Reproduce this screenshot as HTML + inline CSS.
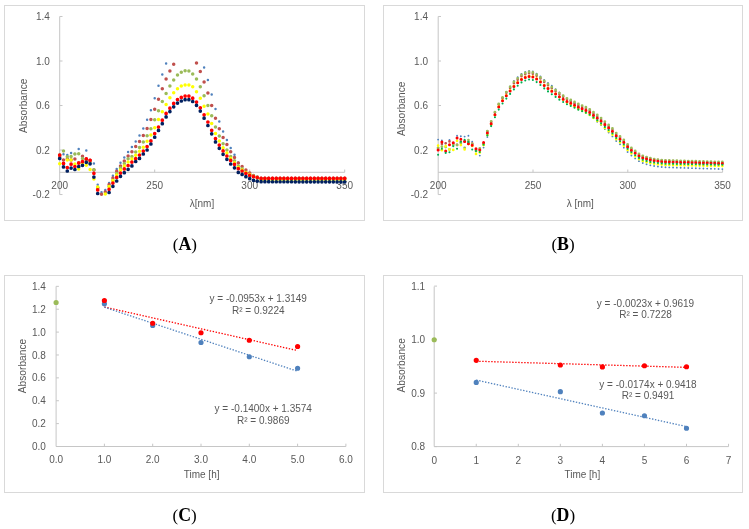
<!DOCTYPE html>
<html><head><meta charset="utf-8"><title>Absorbance figure</title>
<style>
html,body{margin:0;padding:0;background:#fff;}
body{width:749px;height:529px;overflow:hidden;}
svg{display:block;font-family:"Liberation Sans",sans-serif;filter:blur(0.35px);}
</style></head><body>
<svg width="749" height="529" viewBox="0 0 749 529">
<rect width="749" height="529" fill="#fff"/>
<rect x="4.5" y="5.5" width="360" height="215" fill="none" stroke="#d9d9d9" stroke-width="1"/>
<line x1="59.7" y1="16.5" x2="59.7" y2="194.6" stroke="#c6c6c6" stroke-width="1"/>
<line x1="59.7" y1="172.3" x2="344.7" y2="172.3" stroke="#c6c6c6" stroke-width="1"/>
<line x1="59.7" y1="16.48" x2="62.5" y2="16.48" stroke="#c6c6c6" stroke-width="1"/>
<text x="49.8" y="20.08" font-size="10" text-anchor="end" fill="#595959">1.4</text>
<line x1="59.7" y1="61" x2="62.5" y2="61" stroke="#c6c6c6" stroke-width="1"/>
<text x="49.8" y="64.6" font-size="10" text-anchor="end" fill="#595959">1.0</text>
<line x1="59.7" y1="105.52" x2="62.5" y2="105.52" stroke="#c6c6c6" stroke-width="1"/>
<text x="49.8" y="109.12" font-size="10" text-anchor="end" fill="#595959">0.6</text>
<line x1="59.7" y1="150.04" x2="62.5" y2="150.04" stroke="#c6c6c6" stroke-width="1"/>
<text x="49.8" y="153.64" font-size="10" text-anchor="end" fill="#595959">0.2</text>
<line x1="59.7" y1="194.56" x2="62.5" y2="194.56" stroke="#c6c6c6" stroke-width="1"/>
<text x="49.8" y="198.16" font-size="10" text-anchor="end" fill="#595959">-0.2</text>
<text x="59.7" y="188.8" font-size="10" text-anchor="middle" fill="#595959">200</text>
<line x1="154.7" y1="172.3" x2="154.7" y2="169.5" stroke="#c6c6c6" stroke-width="1"/>
<text x="154.7" y="188.8" font-size="10" text-anchor="middle" fill="#595959">250</text>
<line x1="249.7" y1="172.3" x2="249.7" y2="169.5" stroke="#c6c6c6" stroke-width="1"/>
<text x="249.7" y="188.8" font-size="10" text-anchor="middle" fill="#595959">300</text>
<line x1="344.7" y1="172.3" x2="344.7" y2="169.5" stroke="#c6c6c6" stroke-width="1"/>
<text x="344.7" y="188.8" font-size="10" text-anchor="middle" fill="#595959">350</text>
<text x="0" y="0" font-size="10.2" text-anchor="middle" fill="#595959" transform="translate(27.2 105.75) rotate(-90)">Absorbance</text>
<text x="202" y="207.2" font-size="10" text-anchor="middle" fill="#595959">&#955;[nm]</text>
<path fill="#4f81bd" d="M58.45 155a1.25 1.25 0 1 0 2.5 0a1.25 1.25 0 1 0 -2.5 0M62.25 154.2a1.25 1.25 0 1 0 2.5 0a1.25 1.25 0 1 0 -2.5 0M66.05 155.1a1.25 1.25 0 1 0 2.5 0a1.25 1.25 0 1 0 -2.5 0M69.85 152.9a1.25 1.25 0 1 0 2.5 0a1.25 1.25 0 1 0 -2.5 0M73.65 154a1.25 1.25 0 1 0 2.5 0a1.25 1.25 0 1 0 -2.5 0M77.45 149.1a1.25 1.25 0 1 0 2.5 0a1.25 1.25 0 1 0 -2.5 0M81.25 156.3a1.25 1.25 0 1 0 2.5 0a1.25 1.25 0 1 0 -2.5 0M85.05 150.4a1.25 1.25 0 1 0 2.5 0a1.25 1.25 0 1 0 -2.5 0M88.85 160.3a1.25 1.25 0 1 0 2.5 0a1.25 1.25 0 1 0 -2.5 0M92.65 163.5a1.25 1.25 0 1 0 2.5 0a1.25 1.25 0 1 0 -2.5 0M96.45 184.8a1.25 1.25 0 1 0 2.5 0a1.25 1.25 0 1 0 -2.5 0M100.25 192.2a1.25 1.25 0 1 0 2.5 0a1.25 1.25 0 1 0 -2.5 0M104.05 189.9a1.25 1.25 0 1 0 2.5 0a1.25 1.25 0 1 0 -2.5 0M107.85 182.9a1.25 1.25 0 1 0 2.5 0a1.25 1.25 0 1 0 -2.5 0M111.65 175.7a1.25 1.25 0 1 0 2.5 0a1.25 1.25 0 1 0 -2.5 0M115.45 168.9a1.25 1.25 0 1 0 2.5 0a1.25 1.25 0 1 0 -2.5 0M119.25 162.7a1.25 1.25 0 1 0 2.5 0a1.25 1.25 0 1 0 -2.5 0M123.05 157.6a1.25 1.25 0 1 0 2.5 0a1.25 1.25 0 1 0 -2.5 0M126.85 152.1a1.25 1.25 0 1 0 2.5 0a1.25 1.25 0 1 0 -2.5 0M130.65 147a1.25 1.25 0 1 0 2.5 0a1.25 1.25 0 1 0 -2.5 0M134.45 141.4a1.25 1.25 0 1 0 2.5 0a1.25 1.25 0 1 0 -2.5 0M138.25 135.5a1.25 1.25 0 1 0 2.5 0a1.25 1.25 0 1 0 -2.5 0M142.05 128.4a1.25 1.25 0 1 0 2.5 0a1.25 1.25 0 1 0 -2.5 0M145.85 119.7a1.25 1.25 0 1 0 2.5 0a1.25 1.25 0 1 0 -2.5 0M149.65 110.2a1.25 1.25 0 1 0 2.5 0a1.25 1.25 0 1 0 -2.5 0M153.45 98.2a1.25 1.25 0 1 0 2.5 0a1.25 1.25 0 1 0 -2.5 0M157.25 85.8a1.25 1.25 0 1 0 2.5 0a1.25 1.25 0 1 0 -2.5 0M161.05 74.4a1.25 1.25 0 1 0 2.5 0a1.25 1.25 0 1 0 -2.5 0M164.85 63.4a1.25 1.25 0 1 0 2.5 0a1.25 1.25 0 1 0 -2.5 0M202.85 67.6a1.25 1.25 0 1 0 2.5 0a1.25 1.25 0 1 0 -2.5 0M206.65 80a1.25 1.25 0 1 0 2.5 0a1.25 1.25 0 1 0 -2.5 0M210.45 94.5a1.25 1.25 0 1 0 2.5 0a1.25 1.25 0 1 0 -2.5 0M214.25 109a1.25 1.25 0 1 0 2.5 0a1.25 1.25 0 1 0 -2.5 0M218.05 121.4a1.25 1.25 0 1 0 2.5 0a1.25 1.25 0 1 0 -2.5 0M221.85 131.4a1.25 1.25 0 1 0 2.5 0a1.25 1.25 0 1 0 -2.5 0M225.65 140a1.25 1.25 0 1 0 2.5 0a1.25 1.25 0 1 0 -2.5 0M229.45 148a1.25 1.25 0 1 0 2.5 0a1.25 1.25 0 1 0 -2.5 0M233.25 154.7a1.25 1.25 0 1 0 2.5 0a1.25 1.25 0 1 0 -2.5 0M237.05 162.5a1.25 1.25 0 1 0 2.5 0a1.25 1.25 0 1 0 -2.5 0M240.85 170.5a1.25 1.25 0 1 0 2.5 0a1.25 1.25 0 1 0 -2.5 0M244.65 173a1.25 1.25 0 1 0 2.5 0a1.25 1.25 0 1 0 -2.5 0M248.45 175a1.25 1.25 0 1 0 2.5 0a1.25 1.25 0 1 0 -2.5 0M252.25 176.3a1.25 1.25 0 1 0 2.5 0a1.25 1.25 0 1 0 -2.5 0M256.05 177.5a1.25 1.25 0 1 0 2.5 0a1.25 1.25 0 1 0 -2.5 0M259.85 178.3a1.25 1.25 0 1 0 2.5 0a1.25 1.25 0 1 0 -2.5 0M263.65 178.3a1.25 1.25 0 1 0 2.5 0a1.25 1.25 0 1 0 -2.5 0M267.45 178.3a1.25 1.25 0 1 0 2.5 0a1.25 1.25 0 1 0 -2.5 0M271.25 178.3a1.25 1.25 0 1 0 2.5 0a1.25 1.25 0 1 0 -2.5 0M275.05 178.3a1.25 1.25 0 1 0 2.5 0a1.25 1.25 0 1 0 -2.5 0M278.85 178.3a1.25 1.25 0 1 0 2.5 0a1.25 1.25 0 1 0 -2.5 0M282.65 178.3a1.25 1.25 0 1 0 2.5 0a1.25 1.25 0 1 0 -2.5 0M286.45 178.3a1.25 1.25 0 1 0 2.5 0a1.25 1.25 0 1 0 -2.5 0M290.25 178.3a1.25 1.25 0 1 0 2.5 0a1.25 1.25 0 1 0 -2.5 0M294.05 178.3a1.25 1.25 0 1 0 2.5 0a1.25 1.25 0 1 0 -2.5 0M297.85 178.3a1.25 1.25 0 1 0 2.5 0a1.25 1.25 0 1 0 -2.5 0M301.65 178.3a1.25 1.25 0 1 0 2.5 0a1.25 1.25 0 1 0 -2.5 0M305.45 178.3a1.25 1.25 0 1 0 2.5 0a1.25 1.25 0 1 0 -2.5 0M309.25 178.3a1.25 1.25 0 1 0 2.5 0a1.25 1.25 0 1 0 -2.5 0M313.05 178.3a1.25 1.25 0 1 0 2.5 0a1.25 1.25 0 1 0 -2.5 0M316.85 178.3a1.25 1.25 0 1 0 2.5 0a1.25 1.25 0 1 0 -2.5 0M320.65 178.3a1.25 1.25 0 1 0 2.5 0a1.25 1.25 0 1 0 -2.5 0M324.45 178.3a1.25 1.25 0 1 0 2.5 0a1.25 1.25 0 1 0 -2.5 0M328.25 178.3a1.25 1.25 0 1 0 2.5 0a1.25 1.25 0 1 0 -2.5 0M332.05 178.3a1.25 1.25 0 1 0 2.5 0a1.25 1.25 0 1 0 -2.5 0M335.85 178.3a1.25 1.25 0 1 0 2.5 0a1.25 1.25 0 1 0 -2.5 0M339.65 178.3a1.25 1.25 0 1 0 2.5 0a1.25 1.25 0 1 0 -2.5 0M343.45 178.3a1.25 1.25 0 1 0 2.5 0a1.25 1.25 0 1 0 -2.5 0"/>
<path fill="#c0504d" d="M57.95 157a1.75 1.75 0 1 0 3.5 0a1.75 1.75 0 1 0 -3.5 0M61.75 160a1.75 1.75 0 1 0 3.5 0a1.75 1.75 0 1 0 -3.5 0M65.55 159a1.75 1.75 0 1 0 3.5 0a1.75 1.75 0 1 0 -3.5 0M69.35 160a1.75 1.75 0 1 0 3.5 0a1.75 1.75 0 1 0 -3.5 0M73.15 158.9a1.75 1.75 0 1 0 3.5 0a1.75 1.75 0 1 0 -3.5 0M76.95 162.8a1.75 1.75 0 1 0 3.5 0a1.75 1.75 0 1 0 -3.5 0M80.75 156.3a1.75 1.75 0 1 0 3.5 0a1.75 1.75 0 1 0 -3.5 0M84.55 159a1.75 1.75 0 1 0 3.5 0a1.75 1.75 0 1 0 -3.5 0M88.35 160.3a1.75 1.75 0 1 0 3.5 0a1.75 1.75 0 1 0 -3.5 0M92.15 170a1.75 1.75 0 1 0 3.5 0a1.75 1.75 0 1 0 -3.5 0M95.95 188a1.75 1.75 0 1 0 3.5 0a1.75 1.75 0 1 0 -3.5 0M99.75 194.2a1.75 1.75 0 1 0 3.5 0a1.75 1.75 0 1 0 -3.5 0M103.55 192a1.75 1.75 0 1 0 3.5 0a1.75 1.75 0 1 0 -3.5 0M107.35 184.4a1.75 1.75 0 1 0 3.5 0a1.75 1.75 0 1 0 -3.5 0M111.15 178a1.75 1.75 0 1 0 3.5 0a1.75 1.75 0 1 0 -3.5 0M114.95 171.2a1.75 1.75 0 1 0 3.5 0a1.75 1.75 0 1 0 -3.5 0M118.75 165.9a1.75 1.75 0 1 0 3.5 0a1.75 1.75 0 1 0 -3.5 0M122.55 161a1.75 1.75 0 1 0 3.5 0a1.75 1.75 0 1 0 -3.5 0M126.35 156.1a1.75 1.75 0 1 0 3.5 0a1.75 1.75 0 1 0 -3.5 0M130.15 151.7a1.75 1.75 0 1 0 3.5 0a1.75 1.75 0 1 0 -3.5 0M133.95 146.6a1.75 1.75 0 1 0 3.5 0a1.75 1.75 0 1 0 -3.5 0M137.75 141.4a1.75 1.75 0 1 0 3.5 0a1.75 1.75 0 1 0 -3.5 0M141.55 135.5a1.75 1.75 0 1 0 3.5 0a1.75 1.75 0 1 0 -3.5 0M145.35 128.4a1.75 1.75 0 1 0 3.5 0a1.75 1.75 0 1 0 -3.5 0M149.15 119.5a1.75 1.75 0 1 0 3.5 0a1.75 1.75 0 1 0 -3.5 0M152.95 109.2a1.75 1.75 0 1 0 3.5 0a1.75 1.75 0 1 0 -3.5 0M156.75 99.2a1.75 1.75 0 1 0 3.5 0a1.75 1.75 0 1 0 -3.5 0M160.55 88.7a1.75 1.75 0 1 0 3.5 0a1.75 1.75 0 1 0 -3.5 0M164.35 79a1.75 1.75 0 1 0 3.5 0a1.75 1.75 0 1 0 -3.5 0M168.15 71a1.75 1.75 0 1 0 3.5 0a1.75 1.75 0 1 0 -3.5 0M171.95 64.3a1.75 1.75 0 1 0 3.5 0a1.75 1.75 0 1 0 -3.5 0M194.75 63a1.75 1.75 0 1 0 3.5 0a1.75 1.75 0 1 0 -3.5 0M198.55 71.4a1.75 1.75 0 1 0 3.5 0a1.75 1.75 0 1 0 -3.5 0M202.35 82a1.75 1.75 0 1 0 3.5 0a1.75 1.75 0 1 0 -3.5 0M206.15 93a1.75 1.75 0 1 0 3.5 0a1.75 1.75 0 1 0 -3.5 0M209.95 105.4a1.75 1.75 0 1 0 3.5 0a1.75 1.75 0 1 0 -3.5 0M213.75 118.3a1.75 1.75 0 1 0 3.5 0a1.75 1.75 0 1 0 -3.5 0M217.55 128.7a1.75 1.75 0 1 0 3.5 0a1.75 1.75 0 1 0 -3.5 0M221.35 137.4a1.75 1.75 0 1 0 3.5 0a1.75 1.75 0 1 0 -3.5 0M225.15 144.6a1.75 1.75 0 1 0 3.5 0a1.75 1.75 0 1 0 -3.5 0M228.95 151.7a1.75 1.75 0 1 0 3.5 0a1.75 1.75 0 1 0 -3.5 0M232.75 157.4a1.75 1.75 0 1 0 3.5 0a1.75 1.75 0 1 0 -3.5 0M236.55 163a1.75 1.75 0 1 0 3.5 0a1.75 1.75 0 1 0 -3.5 0M240.35 166.6a1.75 1.75 0 1 0 3.5 0a1.75 1.75 0 1 0 -3.5 0M244.15 170a1.75 1.75 0 1 0 3.5 0a1.75 1.75 0 1 0 -3.5 0M247.95 173a1.75 1.75 0 1 0 3.5 0a1.75 1.75 0 1 0 -3.5 0M251.75 175.5a1.75 1.75 0 1 0 3.5 0a1.75 1.75 0 1 0 -3.5 0M255.55 177a1.75 1.75 0 1 0 3.5 0a1.75 1.75 0 1 0 -3.5 0M259.35 178.3a1.75 1.75 0 1 0 3.5 0a1.75 1.75 0 1 0 -3.5 0M263.15 178.3a1.75 1.75 0 1 0 3.5 0a1.75 1.75 0 1 0 -3.5 0M266.95 178.3a1.75 1.75 0 1 0 3.5 0a1.75 1.75 0 1 0 -3.5 0M270.75 178.3a1.75 1.75 0 1 0 3.5 0a1.75 1.75 0 1 0 -3.5 0M274.55 178.3a1.75 1.75 0 1 0 3.5 0a1.75 1.75 0 1 0 -3.5 0M278.35 178.3a1.75 1.75 0 1 0 3.5 0a1.75 1.75 0 1 0 -3.5 0M282.15 178.3a1.75 1.75 0 1 0 3.5 0a1.75 1.75 0 1 0 -3.5 0M285.95 178.3a1.75 1.75 0 1 0 3.5 0a1.75 1.75 0 1 0 -3.5 0M289.75 178.3a1.75 1.75 0 1 0 3.5 0a1.75 1.75 0 1 0 -3.5 0M293.55 178.3a1.75 1.75 0 1 0 3.5 0a1.75 1.75 0 1 0 -3.5 0M297.35 178.3a1.75 1.75 0 1 0 3.5 0a1.75 1.75 0 1 0 -3.5 0M301.15 178.3a1.75 1.75 0 1 0 3.5 0a1.75 1.75 0 1 0 -3.5 0M304.95 178.3a1.75 1.75 0 1 0 3.5 0a1.75 1.75 0 1 0 -3.5 0M308.75 178.3a1.75 1.75 0 1 0 3.5 0a1.75 1.75 0 1 0 -3.5 0M312.55 178.3a1.75 1.75 0 1 0 3.5 0a1.75 1.75 0 1 0 -3.5 0M316.35 178.3a1.75 1.75 0 1 0 3.5 0a1.75 1.75 0 1 0 -3.5 0M320.15 178.3a1.75 1.75 0 1 0 3.5 0a1.75 1.75 0 1 0 -3.5 0M323.95 178.3a1.75 1.75 0 1 0 3.5 0a1.75 1.75 0 1 0 -3.5 0M327.75 178.3a1.75 1.75 0 1 0 3.5 0a1.75 1.75 0 1 0 -3.5 0M331.55 178.3a1.75 1.75 0 1 0 3.5 0a1.75 1.75 0 1 0 -3.5 0M335.35 178.3a1.75 1.75 0 1 0 3.5 0a1.75 1.75 0 1 0 -3.5 0M339.15 178.3a1.75 1.75 0 1 0 3.5 0a1.75 1.75 0 1 0 -3.5 0M342.95 178.3a1.75 1.75 0 1 0 3.5 0a1.75 1.75 0 1 0 -3.5 0"/>
<path fill="#9bbb59" d="M57.95 155a1.75 1.75 0 1 0 3.5 0a1.75 1.75 0 1 0 -3.5 0M61.75 151a1.75 1.75 0 1 0 3.5 0a1.75 1.75 0 1 0 -3.5 0M65.55 156.8a1.75 1.75 0 1 0 3.5 0a1.75 1.75 0 1 0 -3.5 0M69.35 156.5a1.75 1.75 0 1 0 3.5 0a1.75 1.75 0 1 0 -3.5 0M73.15 154a1.75 1.75 0 1 0 3.5 0a1.75 1.75 0 1 0 -3.5 0M76.95 153.8a1.75 1.75 0 1 0 3.5 0a1.75 1.75 0 1 0 -3.5 0M80.75 158.5a1.75 1.75 0 1 0 3.5 0a1.75 1.75 0 1 0 -3.5 0M84.55 160a1.75 1.75 0 1 0 3.5 0a1.75 1.75 0 1 0 -3.5 0M88.35 162a1.75 1.75 0 1 0 3.5 0a1.75 1.75 0 1 0 -3.5 0M92.15 169.7a1.75 1.75 0 1 0 3.5 0a1.75 1.75 0 1 0 -3.5 0M95.95 187.5a1.75 1.75 0 1 0 3.5 0a1.75 1.75 0 1 0 -3.5 0M107.35 186.5a1.75 1.75 0 1 0 3.5 0a1.75 1.75 0 1 0 -3.5 0M111.15 180.5a1.75 1.75 0 1 0 3.5 0a1.75 1.75 0 1 0 -3.5 0M114.95 173.5a1.75 1.75 0 1 0 3.5 0a1.75 1.75 0 1 0 -3.5 0M118.75 168a1.75 1.75 0 1 0 3.5 0a1.75 1.75 0 1 0 -3.5 0M122.55 163.5a1.75 1.75 0 1 0 3.5 0a1.75 1.75 0 1 0 -3.5 0M126.35 158.7a1.75 1.75 0 1 0 3.5 0a1.75 1.75 0 1 0 -3.5 0M130.15 156.4a1.75 1.75 0 1 0 3.5 0a1.75 1.75 0 1 0 -3.5 0M133.95 152.1a1.75 1.75 0 1 0 3.5 0a1.75 1.75 0 1 0 -3.5 0M137.75 147.5a1.75 1.75 0 1 0 3.5 0a1.75 1.75 0 1 0 -3.5 0M141.55 142a1.75 1.75 0 1 0 3.5 0a1.75 1.75 0 1 0 -3.5 0M145.35 135.8a1.75 1.75 0 1 0 3.5 0a1.75 1.75 0 1 0 -3.5 0M149.15 128.8a1.75 1.75 0 1 0 3.5 0a1.75 1.75 0 1 0 -3.5 0M152.95 119.7a1.75 1.75 0 1 0 3.5 0a1.75 1.75 0 1 0 -3.5 0M156.75 110.8a1.75 1.75 0 1 0 3.5 0a1.75 1.75 0 1 0 -3.5 0M160.55 101.6a1.75 1.75 0 1 0 3.5 0a1.75 1.75 0 1 0 -3.5 0M164.35 93.4a1.75 1.75 0 1 0 3.5 0a1.75 1.75 0 1 0 -3.5 0M168.15 86a1.75 1.75 0 1 0 3.5 0a1.75 1.75 0 1 0 -3.5 0M171.95 80a1.75 1.75 0 1 0 3.5 0a1.75 1.75 0 1 0 -3.5 0M175.75 75.1a1.75 1.75 0 1 0 3.5 0a1.75 1.75 0 1 0 -3.5 0M179.55 72.3a1.75 1.75 0 1 0 3.5 0a1.75 1.75 0 1 0 -3.5 0M183.35 70.7a1.75 1.75 0 1 0 3.5 0a1.75 1.75 0 1 0 -3.5 0M187.15 71a1.75 1.75 0 1 0 3.5 0a1.75 1.75 0 1 0 -3.5 0M190.95 74a1.75 1.75 0 1 0 3.5 0a1.75 1.75 0 1 0 -3.5 0M194.75 79.1a1.75 1.75 0 1 0 3.5 0a1.75 1.75 0 1 0 -3.5 0M198.55 86.7a1.75 1.75 0 1 0 3.5 0a1.75 1.75 0 1 0 -3.5 0M202.35 95.8a1.75 1.75 0 1 0 3.5 0a1.75 1.75 0 1 0 -3.5 0M206.15 105.4a1.75 1.75 0 1 0 3.5 0a1.75 1.75 0 1 0 -3.5 0M209.95 115.7a1.75 1.75 0 1 0 3.5 0a1.75 1.75 0 1 0 -3.5 0M213.75 127a1.75 1.75 0 1 0 3.5 0a1.75 1.75 0 1 0 -3.5 0M217.55 136.1a1.75 1.75 0 1 0 3.5 0a1.75 1.75 0 1 0 -3.5 0M221.35 143.8a1.75 1.75 0 1 0 3.5 0a1.75 1.75 0 1 0 -3.5 0M225.15 150a1.75 1.75 0 1 0 3.5 0a1.75 1.75 0 1 0 -3.5 0M228.95 156.5a1.75 1.75 0 1 0 3.5 0a1.75 1.75 0 1 0 -3.5 0M232.75 160.7a1.75 1.75 0 1 0 3.5 0a1.75 1.75 0 1 0 -3.5 0M236.55 166a1.75 1.75 0 1 0 3.5 0a1.75 1.75 0 1 0 -3.5 0M240.35 168.7a1.75 1.75 0 1 0 3.5 0a1.75 1.75 0 1 0 -3.5 0M244.15 172.5a1.75 1.75 0 1 0 3.5 0a1.75 1.75 0 1 0 -3.5 0M247.95 174.5a1.75 1.75 0 1 0 3.5 0a1.75 1.75 0 1 0 -3.5 0M251.75 176a1.75 1.75 0 1 0 3.5 0a1.75 1.75 0 1 0 -3.5 0M255.55 177.3a1.75 1.75 0 1 0 3.5 0a1.75 1.75 0 1 0 -3.5 0M259.35 178.5a1.75 1.75 0 1 0 3.5 0a1.75 1.75 0 1 0 -3.5 0M263.15 178.5a1.75 1.75 0 1 0 3.5 0a1.75 1.75 0 1 0 -3.5 0M266.95 178.5a1.75 1.75 0 1 0 3.5 0a1.75 1.75 0 1 0 -3.5 0M270.75 178.5a1.75 1.75 0 1 0 3.5 0a1.75 1.75 0 1 0 -3.5 0M274.55 178.5a1.75 1.75 0 1 0 3.5 0a1.75 1.75 0 1 0 -3.5 0M278.35 178.5a1.75 1.75 0 1 0 3.5 0a1.75 1.75 0 1 0 -3.5 0M282.15 178.5a1.75 1.75 0 1 0 3.5 0a1.75 1.75 0 1 0 -3.5 0M285.95 178.5a1.75 1.75 0 1 0 3.5 0a1.75 1.75 0 1 0 -3.5 0M289.75 178.5a1.75 1.75 0 1 0 3.5 0a1.75 1.75 0 1 0 -3.5 0M293.55 178.5a1.75 1.75 0 1 0 3.5 0a1.75 1.75 0 1 0 -3.5 0M297.35 178.5a1.75 1.75 0 1 0 3.5 0a1.75 1.75 0 1 0 -3.5 0M301.15 178.5a1.75 1.75 0 1 0 3.5 0a1.75 1.75 0 1 0 -3.5 0M304.95 178.5a1.75 1.75 0 1 0 3.5 0a1.75 1.75 0 1 0 -3.5 0M308.75 178.5a1.75 1.75 0 1 0 3.5 0a1.75 1.75 0 1 0 -3.5 0M312.55 178.5a1.75 1.75 0 1 0 3.5 0a1.75 1.75 0 1 0 -3.5 0M316.35 178.5a1.75 1.75 0 1 0 3.5 0a1.75 1.75 0 1 0 -3.5 0M320.15 178.5a1.75 1.75 0 1 0 3.5 0a1.75 1.75 0 1 0 -3.5 0M323.95 178.5a1.75 1.75 0 1 0 3.5 0a1.75 1.75 0 1 0 -3.5 0M327.75 178.5a1.75 1.75 0 1 0 3.5 0a1.75 1.75 0 1 0 -3.5 0M331.55 178.5a1.75 1.75 0 1 0 3.5 0a1.75 1.75 0 1 0 -3.5 0M335.35 178.5a1.75 1.75 0 1 0 3.5 0a1.75 1.75 0 1 0 -3.5 0M339.15 178.5a1.75 1.75 0 1 0 3.5 0a1.75 1.75 0 1 0 -3.5 0M342.95 178.5a1.75 1.75 0 1 0 3.5 0a1.75 1.75 0 1 0 -3.5 0"/>
<path fill="#ffff00" d="M57.95 163.8a1.75 1.75 0 1 0 3.5 0a1.75 1.75 0 1 0 -3.5 0M61.75 163.4a1.75 1.75 0 1 0 3.5 0a1.75 1.75 0 1 0 -3.5 0M65.55 160a1.75 1.75 0 1 0 3.5 0a1.75 1.75 0 1 0 -3.5 0M69.35 160a1.75 1.75 0 1 0 3.5 0a1.75 1.75 0 1 0 -3.5 0M73.15 164a1.75 1.75 0 1 0 3.5 0a1.75 1.75 0 1 0 -3.5 0M76.95 169.1a1.75 1.75 0 1 0 3.5 0a1.75 1.75 0 1 0 -3.5 0M80.75 163a1.75 1.75 0 1 0 3.5 0a1.75 1.75 0 1 0 -3.5 0M84.55 165.3a1.75 1.75 0 1 0 3.5 0a1.75 1.75 0 1 0 -3.5 0M88.35 169.5a1.75 1.75 0 1 0 3.5 0a1.75 1.75 0 1 0 -3.5 0M92.15 179a1.75 1.75 0 1 0 3.5 0a1.75 1.75 0 1 0 -3.5 0M95.95 187a1.75 1.75 0 1 0 3.5 0a1.75 1.75 0 1 0 -3.5 0M103.55 193.9a1.75 1.75 0 1 0 3.5 0a1.75 1.75 0 1 0 -3.5 0M107.35 186.5a1.75 1.75 0 1 0 3.5 0a1.75 1.75 0 1 0 -3.5 0M111.15 180.6a1.75 1.75 0 1 0 3.5 0a1.75 1.75 0 1 0 -3.5 0M114.95 174.9a1.75 1.75 0 1 0 3.5 0a1.75 1.75 0 1 0 -3.5 0M118.75 170a1.75 1.75 0 1 0 3.5 0a1.75 1.75 0 1 0 -3.5 0M122.55 166.1a1.75 1.75 0 1 0 3.5 0a1.75 1.75 0 1 0 -3.5 0M126.35 162.1a1.75 1.75 0 1 0 3.5 0a1.75 1.75 0 1 0 -3.5 0M130.15 159a1.75 1.75 0 1 0 3.5 0a1.75 1.75 0 1 0 -3.5 0M133.95 155.3a1.75 1.75 0 1 0 3.5 0a1.75 1.75 0 1 0 -3.5 0M137.75 151.3a1.75 1.75 0 1 0 3.5 0a1.75 1.75 0 1 0 -3.5 0M141.55 147.2a1.75 1.75 0 1 0 3.5 0a1.75 1.75 0 1 0 -3.5 0M145.35 141.3a1.75 1.75 0 1 0 3.5 0a1.75 1.75 0 1 0 -3.5 0M149.15 135a1.75 1.75 0 1 0 3.5 0a1.75 1.75 0 1 0 -3.5 0M152.95 127.7a1.75 1.75 0 1 0 3.5 0a1.75 1.75 0 1 0 -3.5 0M156.75 119.4a1.75 1.75 0 1 0 3.5 0a1.75 1.75 0 1 0 -3.5 0M160.55 111.8a1.75 1.75 0 1 0 3.5 0a1.75 1.75 0 1 0 -3.5 0M164.35 104.5a1.75 1.75 0 1 0 3.5 0a1.75 1.75 0 1 0 -3.5 0M168.15 97.8a1.75 1.75 0 1 0 3.5 0a1.75 1.75 0 1 0 -3.5 0M171.95 92.7a1.75 1.75 0 1 0 3.5 0a1.75 1.75 0 1 0 -3.5 0M175.75 88.7a1.75 1.75 0 1 0 3.5 0a1.75 1.75 0 1 0 -3.5 0M179.55 86a1.75 1.75 0 1 0 3.5 0a1.75 1.75 0 1 0 -3.5 0M183.35 85a1.75 1.75 0 1 0 3.5 0a1.75 1.75 0 1 0 -3.5 0M187.15 85a1.75 1.75 0 1 0 3.5 0a1.75 1.75 0 1 0 -3.5 0M190.95 86.7a1.75 1.75 0 1 0 3.5 0a1.75 1.75 0 1 0 -3.5 0M194.75 91.7a1.75 1.75 0 1 0 3.5 0a1.75 1.75 0 1 0 -3.5 0M198.55 98.3a1.75 1.75 0 1 0 3.5 0a1.75 1.75 0 1 0 -3.5 0M202.35 106.3a1.75 1.75 0 1 0 3.5 0a1.75 1.75 0 1 0 -3.5 0M206.15 114a1.75 1.75 0 1 0 3.5 0a1.75 1.75 0 1 0 -3.5 0M209.95 123.4a1.75 1.75 0 1 0 3.5 0a1.75 1.75 0 1 0 -3.5 0M213.75 133.4a1.75 1.75 0 1 0 3.5 0a1.75 1.75 0 1 0 -3.5 0M217.55 141a1.75 1.75 0 1 0 3.5 0a1.75 1.75 0 1 0 -3.5 0M221.35 147.7a1.75 1.75 0 1 0 3.5 0a1.75 1.75 0 1 0 -3.5 0M225.15 153.1a1.75 1.75 0 1 0 3.5 0a1.75 1.75 0 1 0 -3.5 0M228.95 158.4a1.75 1.75 0 1 0 3.5 0a1.75 1.75 0 1 0 -3.5 0M232.75 162.7a1.75 1.75 0 1 0 3.5 0a1.75 1.75 0 1 0 -3.5 0M236.55 167.4a1.75 1.75 0 1 0 3.5 0a1.75 1.75 0 1 0 -3.5 0M240.35 170a1.75 1.75 0 1 0 3.5 0a1.75 1.75 0 1 0 -3.5 0M244.15 172.5a1.75 1.75 0 1 0 3.5 0a1.75 1.75 0 1 0 -3.5 0M247.95 174.5a1.75 1.75 0 1 0 3.5 0a1.75 1.75 0 1 0 -3.5 0M251.75 176.5a1.75 1.75 0 1 0 3.5 0a1.75 1.75 0 1 0 -3.5 0M255.55 178a1.75 1.75 0 1 0 3.5 0a1.75 1.75 0 1 0 -3.5 0M259.35 180a1.75 1.75 0 1 0 3.5 0a1.75 1.75 0 1 0 -3.5 0M263.15 180a1.75 1.75 0 1 0 3.5 0a1.75 1.75 0 1 0 -3.5 0M266.95 180a1.75 1.75 0 1 0 3.5 0a1.75 1.75 0 1 0 -3.5 0M270.75 180a1.75 1.75 0 1 0 3.5 0a1.75 1.75 0 1 0 -3.5 0M274.55 180a1.75 1.75 0 1 0 3.5 0a1.75 1.75 0 1 0 -3.5 0M278.35 180a1.75 1.75 0 1 0 3.5 0a1.75 1.75 0 1 0 -3.5 0M282.15 180a1.75 1.75 0 1 0 3.5 0a1.75 1.75 0 1 0 -3.5 0M285.95 180a1.75 1.75 0 1 0 3.5 0a1.75 1.75 0 1 0 -3.5 0M289.75 180a1.75 1.75 0 1 0 3.5 0a1.75 1.75 0 1 0 -3.5 0M293.55 180a1.75 1.75 0 1 0 3.5 0a1.75 1.75 0 1 0 -3.5 0M297.35 180a1.75 1.75 0 1 0 3.5 0a1.75 1.75 0 1 0 -3.5 0M301.15 180a1.75 1.75 0 1 0 3.5 0a1.75 1.75 0 1 0 -3.5 0M304.95 180a1.75 1.75 0 1 0 3.5 0a1.75 1.75 0 1 0 -3.5 0M308.75 180a1.75 1.75 0 1 0 3.5 0a1.75 1.75 0 1 0 -3.5 0M312.55 180a1.75 1.75 0 1 0 3.5 0a1.75 1.75 0 1 0 -3.5 0M316.35 180a1.75 1.75 0 1 0 3.5 0a1.75 1.75 0 1 0 -3.5 0M320.15 180a1.75 1.75 0 1 0 3.5 0a1.75 1.75 0 1 0 -3.5 0M323.95 180a1.75 1.75 0 1 0 3.5 0a1.75 1.75 0 1 0 -3.5 0M327.75 180a1.75 1.75 0 1 0 3.5 0a1.75 1.75 0 1 0 -3.5 0M331.55 180a1.75 1.75 0 1 0 3.5 0a1.75 1.75 0 1 0 -3.5 0M335.35 180a1.75 1.75 0 1 0 3.5 0a1.75 1.75 0 1 0 -3.5 0M339.15 180a1.75 1.75 0 1 0 3.5 0a1.75 1.75 0 1 0 -3.5 0M342.95 180a1.75 1.75 0 1 0 3.5 0a1.75 1.75 0 1 0 -3.5 0"/>
<path fill="#ff0000" d="M57.85 155.1a1.85 1.85 0 1 0 3.7 0a1.85 1.85 0 1 0 -3.7 0M61.65 163.4a1.85 1.85 0 1 0 3.7 0a1.85 1.85 0 1 0 -3.7 0M65.45 167.6a1.85 1.85 0 1 0 3.7 0a1.85 1.85 0 1 0 -3.7 0M69.25 164.2a1.85 1.85 0 1 0 3.7 0a1.85 1.85 0 1 0 -3.7 0M73.05 166.5a1.85 1.85 0 1 0 3.7 0a1.85 1.85 0 1 0 -3.7 0M76.85 163.1a1.85 1.85 0 1 0 3.7 0a1.85 1.85 0 1 0 -3.7 0M80.65 161.6a1.85 1.85 0 1 0 3.7 0a1.85 1.85 0 1 0 -3.7 0M84.45 158.9a1.85 1.85 0 1 0 3.7 0a1.85 1.85 0 1 0 -3.7 0M88.25 160.3a1.85 1.85 0 1 0 3.7 0a1.85 1.85 0 1 0 -3.7 0M92.05 173.3a1.85 1.85 0 1 0 3.7 0a1.85 1.85 0 1 0 -3.7 0M95.85 189.9a1.85 1.85 0 1 0 3.7 0a1.85 1.85 0 1 0 -3.7 0M107.25 189.3a1.85 1.85 0 1 0 3.7 0a1.85 1.85 0 1 0 -3.7 0M111.05 183.1a1.85 1.85 0 1 0 3.7 0a1.85 1.85 0 1 0 -3.7 0M114.85 177.4a1.85 1.85 0 1 0 3.7 0a1.85 1.85 0 1 0 -3.7 0M118.65 173.1a1.85 1.85 0 1 0 3.7 0a1.85 1.85 0 1 0 -3.7 0M122.45 168.9a1.85 1.85 0 1 0 3.7 0a1.85 1.85 0 1 0 -3.7 0M126.25 165.5a1.85 1.85 0 1 0 3.7 0a1.85 1.85 0 1 0 -3.7 0M130.05 162.1a1.85 1.85 0 1 0 3.7 0a1.85 1.85 0 1 0 -3.7 0M133.85 158.7a1.85 1.85 0 1 0 3.7 0a1.85 1.85 0 1 0 -3.7 0M137.65 155a1.85 1.85 0 1 0 3.7 0a1.85 1.85 0 1 0 -3.7 0M141.45 151.1a1.85 1.85 0 1 0 3.7 0a1.85 1.85 0 1 0 -3.7 0M145.25 146.6a1.85 1.85 0 1 0 3.7 0a1.85 1.85 0 1 0 -3.7 0M149.05 140.9a1.85 1.85 0 1 0 3.7 0a1.85 1.85 0 1 0 -3.7 0M152.85 133.5a1.85 1.85 0 1 0 3.7 0a1.85 1.85 0 1 0 -3.7 0M156.65 127a1.85 1.85 0 1 0 3.7 0a1.85 1.85 0 1 0 -3.7 0M160.45 120.2a1.85 1.85 0 1 0 3.7 0a1.85 1.85 0 1 0 -3.7 0M164.25 113.4a1.85 1.85 0 1 0 3.7 0a1.85 1.85 0 1 0 -3.7 0M168.05 108.2a1.85 1.85 0 1 0 3.7 0a1.85 1.85 0 1 0 -3.7 0M171.85 103.4a1.85 1.85 0 1 0 3.7 0a1.85 1.85 0 1 0 -3.7 0M175.65 99.6a1.85 1.85 0 1 0 3.7 0a1.85 1.85 0 1 0 -3.7 0M179.45 97.4a1.85 1.85 0 1 0 3.7 0a1.85 1.85 0 1 0 -3.7 0M183.25 96.1a1.85 1.85 0 1 0 3.7 0a1.85 1.85 0 1 0 -3.7 0M187.05 96.1a1.85 1.85 0 1 0 3.7 0a1.85 1.85 0 1 0 -3.7 0M190.85 98.2a1.85 1.85 0 1 0 3.7 0a1.85 1.85 0 1 0 -3.7 0M194.65 102.1a1.85 1.85 0 1 0 3.7 0a1.85 1.85 0 1 0 -3.7 0M198.45 107.8a1.85 1.85 0 1 0 3.7 0a1.85 1.85 0 1 0 -3.7 0M202.25 114.8a1.85 1.85 0 1 0 3.7 0a1.85 1.85 0 1 0 -3.7 0M206.05 122a1.85 1.85 0 1 0 3.7 0a1.85 1.85 0 1 0 -3.7 0M209.85 130.3a1.85 1.85 0 1 0 3.7 0a1.85 1.85 0 1 0 -3.7 0M213.65 138.5a1.85 1.85 0 1 0 3.7 0a1.85 1.85 0 1 0 -3.7 0M217.45 145.1a1.85 1.85 0 1 0 3.7 0a1.85 1.85 0 1 0 -3.7 0M221.25 150.9a1.85 1.85 0 1 0 3.7 0a1.85 1.85 0 1 0 -3.7 0M225.05 156a1.85 1.85 0 1 0 3.7 0a1.85 1.85 0 1 0 -3.7 0M228.85 160.4a1.85 1.85 0 1 0 3.7 0a1.85 1.85 0 1 0 -3.7 0M232.65 164.3a1.85 1.85 0 1 0 3.7 0a1.85 1.85 0 1 0 -3.7 0M236.45 168.7a1.85 1.85 0 1 0 3.7 0a1.85 1.85 0 1 0 -3.7 0M240.25 171a1.85 1.85 0 1 0 3.7 0a1.85 1.85 0 1 0 -3.7 0M244.05 173.4a1.85 1.85 0 1 0 3.7 0a1.85 1.85 0 1 0 -3.7 0M247.85 175.4a1.85 1.85 0 1 0 3.7 0a1.85 1.85 0 1 0 -3.7 0M251.65 176.7a1.85 1.85 0 1 0 3.7 0a1.85 1.85 0 1 0 -3.7 0M255.45 177.6a1.85 1.85 0 1 0 3.7 0a1.85 1.85 0 1 0 -3.7 0M259.25 178.4a1.85 1.85 0 1 0 3.7 0a1.85 1.85 0 1 0 -3.7 0M263.05 178.4a1.85 1.85 0 1 0 3.7 0a1.85 1.85 0 1 0 -3.7 0M266.85 178.4a1.85 1.85 0 1 0 3.7 0a1.85 1.85 0 1 0 -3.7 0M270.65 178.4a1.85 1.85 0 1 0 3.7 0a1.85 1.85 0 1 0 -3.7 0M274.45 178.4a1.85 1.85 0 1 0 3.7 0a1.85 1.85 0 1 0 -3.7 0M278.25 178.4a1.85 1.85 0 1 0 3.7 0a1.85 1.85 0 1 0 -3.7 0M282.05 178.4a1.85 1.85 0 1 0 3.7 0a1.85 1.85 0 1 0 -3.7 0M285.85 178.4a1.85 1.85 0 1 0 3.7 0a1.85 1.85 0 1 0 -3.7 0M289.65 178.4a1.85 1.85 0 1 0 3.7 0a1.85 1.85 0 1 0 -3.7 0M293.45 178.4a1.85 1.85 0 1 0 3.7 0a1.85 1.85 0 1 0 -3.7 0M297.25 178.4a1.85 1.85 0 1 0 3.7 0a1.85 1.85 0 1 0 -3.7 0M301.05 178.4a1.85 1.85 0 1 0 3.7 0a1.85 1.85 0 1 0 -3.7 0M304.85 178.4a1.85 1.85 0 1 0 3.7 0a1.85 1.85 0 1 0 -3.7 0M308.65 178.4a1.85 1.85 0 1 0 3.7 0a1.85 1.85 0 1 0 -3.7 0M312.45 178.4a1.85 1.85 0 1 0 3.7 0a1.85 1.85 0 1 0 -3.7 0M316.25 178.4a1.85 1.85 0 1 0 3.7 0a1.85 1.85 0 1 0 -3.7 0M320.05 178.4a1.85 1.85 0 1 0 3.7 0a1.85 1.85 0 1 0 -3.7 0M323.85 178.4a1.85 1.85 0 1 0 3.7 0a1.85 1.85 0 1 0 -3.7 0M327.65 178.4a1.85 1.85 0 1 0 3.7 0a1.85 1.85 0 1 0 -3.7 0M331.45 178.4a1.85 1.85 0 1 0 3.7 0a1.85 1.85 0 1 0 -3.7 0M335.25 178.4a1.85 1.85 0 1 0 3.7 0a1.85 1.85 0 1 0 -3.7 0M339.05 178.4a1.85 1.85 0 1 0 3.7 0a1.85 1.85 0 1 0 -3.7 0M342.85 178.4a1.85 1.85 0 1 0 3.7 0a1.85 1.85 0 1 0 -3.7 0"/>
<path fill="#002060" d="M57.85 158.5a1.85 1.85 0 1 0 3.7 0a1.85 1.85 0 1 0 -3.7 0M61.65 166.9a1.85 1.85 0 1 0 3.7 0a1.85 1.85 0 1 0 -3.7 0M65.45 171a1.85 1.85 0 1 0 3.7 0a1.85 1.85 0 1 0 -3.7 0M69.25 168.1a1.85 1.85 0 1 0 3.7 0a1.85 1.85 0 1 0 -3.7 0M73.05 169.5a1.85 1.85 0 1 0 3.7 0a1.85 1.85 0 1 0 -3.7 0M76.85 166.5a1.85 1.85 0 1 0 3.7 0a1.85 1.85 0 1 0 -3.7 0M80.65 165.3a1.85 1.85 0 1 0 3.7 0a1.85 1.85 0 1 0 -3.7 0M84.45 162.3a1.85 1.85 0 1 0 3.7 0a1.85 1.85 0 1 0 -3.7 0M88.25 163.8a1.85 1.85 0 1 0 3.7 0a1.85 1.85 0 1 0 -3.7 0M92.05 177.1a1.85 1.85 0 1 0 3.7 0a1.85 1.85 0 1 0 -3.7 0M95.85 193.5a1.85 1.85 0 1 0 3.7 0a1.85 1.85 0 1 0 -3.7 0M107.25 192.5a1.85 1.85 0 1 0 3.7 0a1.85 1.85 0 1 0 -3.7 0M111.05 186.3a1.85 1.85 0 1 0 3.7 0a1.85 1.85 0 1 0 -3.7 0M114.85 181a1.85 1.85 0 1 0 3.7 0a1.85 1.85 0 1 0 -3.7 0M118.65 176.3a1.85 1.85 0 1 0 3.7 0a1.85 1.85 0 1 0 -3.7 0M122.45 172.7a1.85 1.85 0 1 0 3.7 0a1.85 1.85 0 1 0 -3.7 0M126.25 169.3a1.85 1.85 0 1 0 3.7 0a1.85 1.85 0 1 0 -3.7 0M130.05 165.9a1.85 1.85 0 1 0 3.7 0a1.85 1.85 0 1 0 -3.7 0M133.85 161.5a1.85 1.85 0 1 0 3.7 0a1.85 1.85 0 1 0 -3.7 0M137.65 158.4a1.85 1.85 0 1 0 3.7 0a1.85 1.85 0 1 0 -3.7 0M141.45 154a1.85 1.85 0 1 0 3.7 0a1.85 1.85 0 1 0 -3.7 0M145.25 150a1.85 1.85 0 1 0 3.7 0a1.85 1.85 0 1 0 -3.7 0M149.05 144a1.85 1.85 0 1 0 3.7 0a1.85 1.85 0 1 0 -3.7 0M152.85 137.2a1.85 1.85 0 1 0 3.7 0a1.85 1.85 0 1 0 -3.7 0M156.65 130.4a1.85 1.85 0 1 0 3.7 0a1.85 1.85 0 1 0 -3.7 0M160.45 123.7a1.85 1.85 0 1 0 3.7 0a1.85 1.85 0 1 0 -3.7 0M164.25 116.9a1.85 1.85 0 1 0 3.7 0a1.85 1.85 0 1 0 -3.7 0M168.05 111.6a1.85 1.85 0 1 0 3.7 0a1.85 1.85 0 1 0 -3.7 0M171.85 106.8a1.85 1.85 0 1 0 3.7 0a1.85 1.85 0 1 0 -3.7 0M175.65 103.1a1.85 1.85 0 1 0 3.7 0a1.85 1.85 0 1 0 -3.7 0M179.45 101a1.85 1.85 0 1 0 3.7 0a1.85 1.85 0 1 0 -3.7 0M183.25 99.7a1.85 1.85 0 1 0 3.7 0a1.85 1.85 0 1 0 -3.7 0M187.05 99.7a1.85 1.85 0 1 0 3.7 0a1.85 1.85 0 1 0 -3.7 0M190.85 101.5a1.85 1.85 0 1 0 3.7 0a1.85 1.85 0 1 0 -3.7 0M194.65 105.3a1.85 1.85 0 1 0 3.7 0a1.85 1.85 0 1 0 -3.7 0M198.45 111.1a1.85 1.85 0 1 0 3.7 0a1.85 1.85 0 1 0 -3.7 0M202.25 118.2a1.85 1.85 0 1 0 3.7 0a1.85 1.85 0 1 0 -3.7 0M206.05 125.5a1.85 1.85 0 1 0 3.7 0a1.85 1.85 0 1 0 -3.7 0M209.85 133.8a1.85 1.85 0 1 0 3.7 0a1.85 1.85 0 1 0 -3.7 0M213.65 141.9a1.85 1.85 0 1 0 3.7 0a1.85 1.85 0 1 0 -3.7 0M217.45 148.3a1.85 1.85 0 1 0 3.7 0a1.85 1.85 0 1 0 -3.7 0M221.25 154.3a1.85 1.85 0 1 0 3.7 0a1.85 1.85 0 1 0 -3.7 0M225.05 159.3a1.85 1.85 0 1 0 3.7 0a1.85 1.85 0 1 0 -3.7 0M228.85 164a1.85 1.85 0 1 0 3.7 0a1.85 1.85 0 1 0 -3.7 0M232.65 167.8a1.85 1.85 0 1 0 3.7 0a1.85 1.85 0 1 0 -3.7 0M236.45 172.4a1.85 1.85 0 1 0 3.7 0a1.85 1.85 0 1 0 -3.7 0M240.25 174.4a1.85 1.85 0 1 0 3.7 0a1.85 1.85 0 1 0 -3.7 0M244.05 176.7a1.85 1.85 0 1 0 3.7 0a1.85 1.85 0 1 0 -3.7 0M247.85 178.7a1.85 1.85 0 1 0 3.7 0a1.85 1.85 0 1 0 -3.7 0M251.65 180.3a1.85 1.85 0 1 0 3.7 0a1.85 1.85 0 1 0 -3.7 0M255.45 181.1a1.85 1.85 0 1 0 3.7 0a1.85 1.85 0 1 0 -3.7 0M259.25 181.7a1.85 1.85 0 1 0 3.7 0a1.85 1.85 0 1 0 -3.7 0M263.05 181.71a1.85 1.85 0 1 0 3.7 0a1.85 1.85 0 1 0 -3.7 0M266.85 181.72a1.85 1.85 0 1 0 3.7 0a1.85 1.85 0 1 0 -3.7 0M270.65 181.73a1.85 1.85 0 1 0 3.7 0a1.85 1.85 0 1 0 -3.7 0M274.45 181.74a1.85 1.85 0 1 0 3.7 0a1.85 1.85 0 1 0 -3.7 0M278.25 181.75a1.85 1.85 0 1 0 3.7 0a1.85 1.85 0 1 0 -3.7 0M282.05 181.75a1.85 1.85 0 1 0 3.7 0a1.85 1.85 0 1 0 -3.7 0M285.85 181.76a1.85 1.85 0 1 0 3.7 0a1.85 1.85 0 1 0 -3.7 0M289.65 181.77a1.85 1.85 0 1 0 3.7 0a1.85 1.85 0 1 0 -3.7 0M293.45 181.78a1.85 1.85 0 1 0 3.7 0a1.85 1.85 0 1 0 -3.7 0M297.25 181.79a1.85 1.85 0 1 0 3.7 0a1.85 1.85 0 1 0 -3.7 0M301.05 181.8a1.85 1.85 0 1 0 3.7 0a1.85 1.85 0 1 0 -3.7 0M304.85 181.81a1.85 1.85 0 1 0 3.7 0a1.85 1.85 0 1 0 -3.7 0M308.65 181.82a1.85 1.85 0 1 0 3.7 0a1.85 1.85 0 1 0 -3.7 0M312.45 181.83a1.85 1.85 0 1 0 3.7 0a1.85 1.85 0 1 0 -3.7 0M316.25 181.84a1.85 1.85 0 1 0 3.7 0a1.85 1.85 0 1 0 -3.7 0M320.05 181.85a1.85 1.85 0 1 0 3.7 0a1.85 1.85 0 1 0 -3.7 0M323.85 181.85a1.85 1.85 0 1 0 3.7 0a1.85 1.85 0 1 0 -3.7 0M327.65 181.86a1.85 1.85 0 1 0 3.7 0a1.85 1.85 0 1 0 -3.7 0M331.45 181.87a1.85 1.85 0 1 0 3.7 0a1.85 1.85 0 1 0 -3.7 0M335.25 181.88a1.85 1.85 0 1 0 3.7 0a1.85 1.85 0 1 0 -3.7 0M339.05 181.89a1.85 1.85 0 1 0 3.7 0a1.85 1.85 0 1 0 -3.7 0M342.85 181.9a1.85 1.85 0 1 0 3.7 0a1.85 1.85 0 1 0 -3.7 0"/>
<rect x="383.5" y="5.5" width="359" height="215" fill="none" stroke="#d9d9d9" stroke-width="1"/>
<line x1="438.2" y1="16.5" x2="438.2" y2="194.6" stroke="#c6c6c6" stroke-width="1"/>
<line x1="438.2" y1="172.3" x2="722.6" y2="172.3" stroke="#c6c6c6" stroke-width="1"/>
<line x1="438.2" y1="16.48" x2="441" y2="16.48" stroke="#c6c6c6" stroke-width="1"/>
<text x="428" y="20.08" font-size="10" text-anchor="end" fill="#595959">1.4</text>
<line x1="438.2" y1="61" x2="441" y2="61" stroke="#c6c6c6" stroke-width="1"/>
<text x="428" y="64.6" font-size="10" text-anchor="end" fill="#595959">1.0</text>
<line x1="438.2" y1="105.52" x2="441" y2="105.52" stroke="#c6c6c6" stroke-width="1"/>
<text x="428" y="109.12" font-size="10" text-anchor="end" fill="#595959">0.6</text>
<line x1="438.2" y1="150.04" x2="441" y2="150.04" stroke="#c6c6c6" stroke-width="1"/>
<text x="428" y="153.64" font-size="10" text-anchor="end" fill="#595959">0.2</text>
<line x1="438.2" y1="194.56" x2="441" y2="194.56" stroke="#c6c6c6" stroke-width="1"/>
<text x="428" y="198.16" font-size="10" text-anchor="end" fill="#595959">-0.2</text>
<text x="438.2" y="188.8" font-size="10" text-anchor="middle" fill="#595959">200</text>
<line x1="533" y1="172.3" x2="533" y2="169.5" stroke="#c6c6c6" stroke-width="1"/>
<text x="533" y="188.8" font-size="10" text-anchor="middle" fill="#595959">250</text>
<line x1="627.8" y1="172.3" x2="627.8" y2="169.5" stroke="#c6c6c6" stroke-width="1"/>
<text x="627.8" y="188.8" font-size="10" text-anchor="middle" fill="#595959">300</text>
<line x1="722.6" y1="172.3" x2="722.6" y2="169.5" stroke="#c6c6c6" stroke-width="1"/>
<text x="722.6" y="188.8" font-size="10" text-anchor="middle" fill="#595959">350</text>
<text x="0" y="0" font-size="10.2" text-anchor="middle" fill="#595959" transform="translate(405.2 108.75) rotate(-90)">Absorbance</text>
<text x="580.3" y="206.8" font-size="10" text-anchor="middle" fill="#595959">&#955; [nm]</text>
<path fill="#4f81bd" d="M437.15 139.6a0.95 0.95 0 1 0 1.9 0a0.95 0.95 0 1 0 -1.9 0M440.94 140.5a0.95 0.95 0 1 0 1.9 0a0.95 0.95 0 1 0 -1.9 0M444.73 143.3a0.95 0.95 0 1 0 1.9 0a0.95 0.95 0 1 0 -1.9 0M448.52 140a0.95 0.95 0 1 0 1.9 0a0.95 0.95 0 1 0 -1.9 0M452.31 142.8a0.95 0.95 0 1 0 1.9 0a0.95 0.95 0 1 0 -1.9 0M456.1 135.7a0.95 0.95 0 1 0 1.9 0a0.95 0.95 0 1 0 -1.9 0M459.89 136.2a0.95 0.95 0 1 0 1.9 0a0.95 0.95 0 1 0 -1.9 0M463.68 136.6a0.95 0.95 0 1 0 1.9 0a0.95 0.95 0 1 0 -1.9 0M467.47 135.8a0.95 0.95 0 1 0 1.9 0a0.95 0.95 0 1 0 -1.9 0M471.26 141.6a0.95 0.95 0 1 0 1.9 0a0.95 0.95 0 1 0 -1.9 0M475.05 148.8a0.95 0.95 0 1 0 1.9 0a0.95 0.95 0 1 0 -1.9 0M478.84 155.6a0.95 0.95 0 1 0 1.9 0a0.95 0.95 0 1 0 -1.9 0M482.63 147.6a0.95 0.95 0 1 0 1.9 0a0.95 0.95 0 1 0 -1.9 0M486.42 137.1a0.95 0.95 0 1 0 1.9 0a0.95 0.95 0 1 0 -1.9 0M490.21 125.7a0.95 0.95 0 1 0 1.9 0a0.95 0.95 0 1 0 -1.9 0M494 114.7a0.95 0.95 0 1 0 1.9 0a0.95 0.95 0 1 0 -1.9 0M497.79 105a0.95 0.95 0 1 0 1.9 0a0.95 0.95 0 1 0 -1.9 0M501.58 97.92a0.95 0.95 0 1 0 1.9 0a0.95 0.95 0 1 0 -1.9 0M505.37 92.05a0.95 0.95 0 1 0 1.9 0a0.95 0.95 0 1 0 -1.9 0M509.16 86.38a0.95 0.95 0 1 0 1.9 0a0.95 0.95 0 1 0 -1.9 0M512.95 80.9a0.95 0.95 0 1 0 1.9 0a0.95 0.95 0 1 0 -1.9 0M516.74 77.3a0.95 0.95 0 1 0 1.9 0a0.95 0.95 0 1 0 -1.9 0M520.53 73.9a0.95 0.95 0 1 0 1.9 0a0.95 0.95 0 1 0 -1.9 0M524.32 72a0.95 0.95 0 1 0 1.9 0a0.95 0.95 0 1 0 -1.9 0M528.11 71a0.95 0.95 0 1 0 1.9 0a0.95 0.95 0 1 0 -1.9 0M531.9 71.5a0.95 0.95 0 1 0 1.9 0a0.95 0.95 0 1 0 -1.9 0M535.69 73.6a0.95 0.95 0 1 0 1.9 0a0.95 0.95 0 1 0 -1.9 0M539.48 76.5a0.95 0.95 0 1 0 1.9 0a0.95 0.95 0 1 0 -1.9 0M543.27 79.9a0.95 0.95 0 1 0 1.9 0a0.95 0.95 0 1 0 -1.9 0M547.06 82.9a0.95 0.95 0 1 0 1.9 0a0.95 0.95 0 1 0 -1.9 0M550.85 85.8a0.95 0.95 0 1 0 1.9 0a0.95 0.95 0 1 0 -1.9 0M554.64 89.12a0.95 0.95 0 1 0 1.9 0a0.95 0.95 0 1 0 -1.9 0M558.43 92.55a0.95 0.95 0 1 0 1.9 0a0.95 0.95 0 1 0 -1.9 0M562.22 95.58a0.95 0.95 0 1 0 1.9 0a0.95 0.95 0 1 0 -1.9 0M566.01 98.6a0.95 0.95 0 1 0 1.9 0a0.95 0.95 0 1 0 -1.9 0M569.8 101.05a0.95 0.95 0 1 0 1.9 0a0.95 0.95 0 1 0 -1.9 0M573.59 103.8a0.95 0.95 0 1 0 1.9 0a0.95 0.95 0 1 0 -1.9 0M577.38 106.45a0.95 0.95 0 1 0 1.9 0a0.95 0.95 0 1 0 -1.9 0M581.17 108.8a0.95 0.95 0 1 0 1.9 0a0.95 0.95 0 1 0 -1.9 0M584.96 111.38a0.95 0.95 0 1 0 1.9 0a0.95 0.95 0 1 0 -1.9 0M588.75 114.35a0.95 0.95 0 1 0 1.9 0a0.95 0.95 0 1 0 -1.9 0M592.54 118.03a0.95 0.95 0 1 0 1.9 0a0.95 0.95 0 1 0 -1.9 0M596.33 121.7a0.95 0.95 0 1 0 1.9 0a0.95 0.95 0 1 0 -1.9 0M600.12 125.17a0.95 0.95 0 1 0 1.9 0a0.95 0.95 0 1 0 -1.9 0M603.91 129.05a0.95 0.95 0 1 0 1.9 0a0.95 0.95 0 1 0 -1.9 0M607.7 132.62a0.95 0.95 0 1 0 1.9 0a0.95 0.95 0 1 0 -1.9 0M611.49 136.4a0.95 0.95 0 1 0 1.9 0a0.95 0.95 0 1 0 -1.9 0M615.28 141.02a0.95 0.95 0 1 0 1.9 0a0.95 0.95 0 1 0 -1.9 0M619.07 144.24a0.95 0.95 0 1 0 1.9 0a0.95 0.95 0 1 0 -1.9 0M622.86 147.66a0.95 0.95 0 1 0 1.9 0a0.95 0.95 0 1 0 -1.9 0M626.65 151.98a0.95 0.95 0 1 0 1.9 0a0.95 0.95 0 1 0 -1.9 0M630.44 155.5a0.95 0.95 0 1 0 1.9 0a0.95 0.95 0 1 0 -1.9 0M634.23 158.42a0.95 0.95 0 1 0 1.9 0a0.95 0.95 0 1 0 -1.9 0M638.02 161.14a0.95 0.95 0 1 0 1.9 0a0.95 0.95 0 1 0 -1.9 0M641.81 163.07a0.95 0.95 0 1 0 1.9 0a0.95 0.95 0 1 0 -1.9 0M645.6 164.29a0.95 0.95 0 1 0 1.9 0a0.95 0.95 0 1 0 -1.9 0M649.39 165.31a0.95 0.95 0 1 0 1.9 0a0.95 0.95 0 1 0 -1.9 0M653.18 166.03a0.95 0.95 0 1 0 1.9 0a0.95 0.95 0 1 0 -1.9 0M656.97 166.55a0.95 0.95 0 1 0 1.9 0a0.95 0.95 0 1 0 -1.9 0M660.76 166.97a0.95 0.95 0 1 0 1.9 0a0.95 0.95 0 1 0 -1.9 0M664.55 167.29a0.95 0.95 0 1 0 1.9 0a0.95 0.95 0 1 0 -1.9 0M668.34 167.41a0.95 0.95 0 1 0 1.9 0a0.95 0.95 0 1 0 -1.9 0M672.13 167.53a0.95 0.95 0 1 0 1.9 0a0.95 0.95 0 1 0 -1.9 0M675.92 167.65a0.95 0.95 0 1 0 1.9 0a0.95 0.95 0 1 0 -1.9 0M679.71 167.77a0.95 0.95 0 1 0 1.9 0a0.95 0.95 0 1 0 -1.9 0M683.5 167.89a0.95 0.95 0 1 0 1.9 0a0.95 0.95 0 1 0 -1.9 0M687.29 168.01a0.95 0.95 0 1 0 1.9 0a0.95 0.95 0 1 0 -1.9 0M691.08 168.13a0.95 0.95 0 1 0 1.9 0a0.95 0.95 0 1 0 -1.9 0M694.87 168.26a0.95 0.95 0 1 0 1.9 0a0.95 0.95 0 1 0 -1.9 0M698.66 168.38a0.95 0.95 0 1 0 1.9 0a0.95 0.95 0 1 0 -1.9 0M702.45 168.5a0.95 0.95 0 1 0 1.9 0a0.95 0.95 0 1 0 -1.9 0M706.24 168.62a0.95 0.95 0 1 0 1.9 0a0.95 0.95 0 1 0 -1.9 0M710.03 168.74a0.95 0.95 0 1 0 1.9 0a0.95 0.95 0 1 0 -1.9 0M713.82 168.86a0.95 0.95 0 1 0 1.9 0a0.95 0.95 0 1 0 -1.9 0M717.61 168.98a0.95 0.95 0 1 0 1.9 0a0.95 0.95 0 1 0 -1.9 0M721.4 169.1a0.95 0.95 0 1 0 1.9 0a0.95 0.95 0 1 0 -1.9 0"/>
<path fill="#c0504d" d="M436.8 148a1.3 1.3 0 1 0 2.6 0a1.3 1.3 0 1 0 -2.6 0M440.59 144a1.3 1.3 0 1 0 2.6 0a1.3 1.3 0 1 0 -2.6 0M444.38 143.3a1.3 1.3 0 1 0 2.6 0a1.3 1.3 0 1 0 -2.6 0M448.17 141.4a1.3 1.3 0 1 0 2.6 0a1.3 1.3 0 1 0 -2.6 0M451.96 143.7a1.3 1.3 0 1 0 2.6 0a1.3 1.3 0 1 0 -2.6 0M455.75 144.9a1.3 1.3 0 1 0 2.6 0a1.3 1.3 0 1 0 -2.6 0M459.54 142a1.3 1.3 0 1 0 2.6 0a1.3 1.3 0 1 0 -2.6 0M463.33 141.4a1.3 1.3 0 1 0 2.6 0a1.3 1.3 0 1 0 -2.6 0M467.12 142a1.3 1.3 0 1 0 2.6 0a1.3 1.3 0 1 0 -2.6 0M470.91 143.5a1.3 1.3 0 1 0 2.6 0a1.3 1.3 0 1 0 -2.6 0M474.7 150a1.3 1.3 0 1 0 2.6 0a1.3 1.3 0 1 0 -2.6 0M478.49 149a1.3 1.3 0 1 0 2.6 0a1.3 1.3 0 1 0 -2.6 0M482.28 144a1.3 1.3 0 1 0 2.6 0a1.3 1.3 0 1 0 -2.6 0M486.07 131.6a1.3 1.3 0 1 0 2.6 0a1.3 1.3 0 1 0 -2.6 0M489.86 121.9a1.3 1.3 0 1 0 2.6 0a1.3 1.3 0 1 0 -2.6 0M493.65 112.6a1.3 1.3 0 1 0 2.6 0a1.3 1.3 0 1 0 -2.6 0M497.44 104.6a1.3 1.3 0 1 0 2.6 0a1.3 1.3 0 1 0 -2.6 0M501.23 98.1a1.3 1.3 0 1 0 2.6 0a1.3 1.3 0 1 0 -2.6 0M505.02 92.8a1.3 1.3 0 1 0 2.6 0a1.3 1.3 0 1 0 -2.6 0M508.81 87.95a1.3 1.3 0 1 0 2.6 0a1.3 1.3 0 1 0 -2.6 0M512.6 83.3a1.3 1.3 0 1 0 2.6 0a1.3 1.3 0 1 0 -2.6 0M516.39 79.65a1.3 1.3 0 1 0 2.6 0a1.3 1.3 0 1 0 -2.6 0M520.18 76.2a1.3 1.3 0 1 0 2.6 0a1.3 1.3 0 1 0 -2.6 0M523.97 74.25a1.3 1.3 0 1 0 2.6 0a1.3 1.3 0 1 0 -2.6 0M527.76 73.2a1.3 1.3 0 1 0 2.6 0a1.3 1.3 0 1 0 -2.6 0M531.55 73.65a1.3 1.3 0 1 0 2.6 0a1.3 1.3 0 1 0 -2.6 0M535.34 75.7a1.3 1.3 0 1 0 2.6 0a1.3 1.3 0 1 0 -2.6 0M539.13 78.55a1.3 1.3 0 1 0 2.6 0a1.3 1.3 0 1 0 -2.6 0M542.92 81.9a1.3 1.3 0 1 0 2.6 0a1.3 1.3 0 1 0 -2.6 0M546.71 85.15a1.3 1.3 0 1 0 2.6 0a1.3 1.3 0 1 0 -2.6 0M550.5 88.3a1.3 1.3 0 1 0 2.6 0a1.3 1.3 0 1 0 -2.6 0M554.29 91.25a1.3 1.3 0 1 0 2.6 0a1.3 1.3 0 1 0 -2.6 0M558.08 94.3a1.3 1.3 0 1 0 2.6 0a1.3 1.3 0 1 0 -2.6 0M561.87 96.83a1.3 1.3 0 1 0 2.6 0a1.3 1.3 0 1 0 -2.6 0M565.66 99.35a1.3 1.3 0 1 0 2.6 0a1.3 1.3 0 1 0 -2.6 0M569.45 101.17a1.3 1.3 0 1 0 2.6 0a1.3 1.3 0 1 0 -2.6 0M573.24 103.3a1.3 1.3 0 1 0 2.6 0a1.3 1.3 0 1 0 -2.6 0M577.03 105.33a1.3 1.3 0 1 0 2.6 0a1.3 1.3 0 1 0 -2.6 0M580.82 107.05a1.3 1.3 0 1 0 2.6 0a1.3 1.3 0 1 0 -2.6 0M584.61 108.88a1.3 1.3 0 1 0 2.6 0a1.3 1.3 0 1 0 -2.6 0M588.4 111.1a1.3 1.3 0 1 0 2.6 0a1.3 1.3 0 1 0 -2.6 0M592.19 113.92a1.3 1.3 0 1 0 2.6 0a1.3 1.3 0 1 0 -2.6 0M595.98 116.74a1.3 1.3 0 1 0 2.6 0a1.3 1.3 0 1 0 -2.6 0M599.77 119.86a1.3 1.3 0 1 0 2.6 0a1.3 1.3 0 1 0 -2.6 0M603.56 123.38a1.3 1.3 0 1 0 2.6 0a1.3 1.3 0 1 0 -2.6 0M607.35 126.6a1.3 1.3 0 1 0 2.6 0a1.3 1.3 0 1 0 -2.6 0M611.14 130.02a1.3 1.3 0 1 0 2.6 0a1.3 1.3 0 1 0 -2.6 0M614.93 134.64a1.3 1.3 0 1 0 2.6 0a1.3 1.3 0 1 0 -2.6 0M618.72 137.86a1.3 1.3 0 1 0 2.6 0a1.3 1.3 0 1 0 -2.6 0M622.51 141.28a1.3 1.3 0 1 0 2.6 0a1.3 1.3 0 1 0 -2.6 0M626.3 145.6a1.3 1.3 0 1 0 2.6 0a1.3 1.3 0 1 0 -2.6 0M630.09 149.12a1.3 1.3 0 1 0 2.6 0a1.3 1.3 0 1 0 -2.6 0M633.88 152.04a1.3 1.3 0 1 0 2.6 0a1.3 1.3 0 1 0 -2.6 0M637.67 154.76a1.3 1.3 0 1 0 2.6 0a1.3 1.3 0 1 0 -2.6 0M641.46 156.68a1.3 1.3 0 1 0 2.6 0a1.3 1.3 0 1 0 -2.6 0M645.25 157.9a1.3 1.3 0 1 0 2.6 0a1.3 1.3 0 1 0 -2.6 0M649.04 158.92a1.3 1.3 0 1 0 2.6 0a1.3 1.3 0 1 0 -2.6 0M652.83 159.64a1.3 1.3 0 1 0 2.6 0a1.3 1.3 0 1 0 -2.6 0M656.62 160.16a1.3 1.3 0 1 0 2.6 0a1.3 1.3 0 1 0 -2.6 0M660.41 160.58a1.3 1.3 0 1 0 2.6 0a1.3 1.3 0 1 0 -2.6 0M664.2 160.9a1.3 1.3 0 1 0 2.6 0a1.3 1.3 0 1 0 -2.6 0M667.99 161.02a1.3 1.3 0 1 0 2.6 0a1.3 1.3 0 1 0 -2.6 0M671.78 161.14a1.3 1.3 0 1 0 2.6 0a1.3 1.3 0 1 0 -2.6 0M675.57 161.26a1.3 1.3 0 1 0 2.6 0a1.3 1.3 0 1 0 -2.6 0M679.36 161.38a1.3 1.3 0 1 0 2.6 0a1.3 1.3 0 1 0 -2.6 0M683.15 161.5a1.3 1.3 0 1 0 2.6 0a1.3 1.3 0 1 0 -2.6 0M686.94 161.62a1.3 1.3 0 1 0 2.6 0a1.3 1.3 0 1 0 -2.6 0M690.73 161.74a1.3 1.3 0 1 0 2.6 0a1.3 1.3 0 1 0 -2.6 0M694.52 161.86a1.3 1.3 0 1 0 2.6 0a1.3 1.3 0 1 0 -2.6 0M698.31 161.98a1.3 1.3 0 1 0 2.6 0a1.3 1.3 0 1 0 -2.6 0M702.1 162.1a1.3 1.3 0 1 0 2.6 0a1.3 1.3 0 1 0 -2.6 0M705.89 162.22a1.3 1.3 0 1 0 2.6 0a1.3 1.3 0 1 0 -2.6 0M709.68 162.34a1.3 1.3 0 1 0 2.6 0a1.3 1.3 0 1 0 -2.6 0M713.47 162.46a1.3 1.3 0 1 0 2.6 0a1.3 1.3 0 1 0 -2.6 0M717.26 162.58a1.3 1.3 0 1 0 2.6 0a1.3 1.3 0 1 0 -2.6 0M721.05 162.7a1.3 1.3 0 1 0 2.6 0a1.3 1.3 0 1 0 -2.6 0"/>
<path fill="#9bbb59" d="M436.7 148a1.4 1.4 0 1 0 2.8 0a1.4 1.4 0 1 0 -2.8 0M440.49 146.7a1.4 1.4 0 1 0 2.8 0a1.4 1.4 0 1 0 -2.8 0M444.28 147a1.4 1.4 0 1 0 2.8 0a1.4 1.4 0 1 0 -2.8 0M448.07 149.4a1.4 1.4 0 1 0 2.8 0a1.4 1.4 0 1 0 -2.8 0M451.86 145a1.4 1.4 0 1 0 2.8 0a1.4 1.4 0 1 0 -2.8 0M455.65 144.9a1.4 1.4 0 1 0 2.8 0a1.4 1.4 0 1 0 -2.8 0M459.44 143a1.4 1.4 0 1 0 2.8 0a1.4 1.4 0 1 0 -2.8 0M463.23 147.8a1.4 1.4 0 1 0 2.8 0a1.4 1.4 0 1 0 -2.8 0M467.02 140.1a1.4 1.4 0 1 0 2.8 0a1.4 1.4 0 1 0 -2.8 0M470.81 144a1.4 1.4 0 1 0 2.8 0a1.4 1.4 0 1 0 -2.8 0M474.6 151a1.4 1.4 0 1 0 2.8 0a1.4 1.4 0 1 0 -2.8 0M478.39 148.3a1.4 1.4 0 1 0 2.8 0a1.4 1.4 0 1 0 -2.8 0M482.18 144.4a1.4 1.4 0 1 0 2.8 0a1.4 1.4 0 1 0 -2.8 0M485.97 131.1a1.4 1.4 0 1 0 2.8 0a1.4 1.4 0 1 0 -2.8 0M489.76 121.37a1.4 1.4 0 1 0 2.8 0a1.4 1.4 0 1 0 -2.8 0M493.55 112.03a1.4 1.4 0 1 0 2.8 0a1.4 1.4 0 1 0 -2.8 0M497.34 104a1.4 1.4 0 1 0 2.8 0a1.4 1.4 0 1 0 -2.8 0M501.13 97.42a1.4 1.4 0 1 0 2.8 0a1.4 1.4 0 1 0 -2.8 0M504.92 92.05a1.4 1.4 0 1 0 2.8 0a1.4 1.4 0 1 0 -2.8 0M508.71 86.88a1.4 1.4 0 1 0 2.8 0a1.4 1.4 0 1 0 -2.8 0M512.5 81.9a1.4 1.4 0 1 0 2.8 0a1.4 1.4 0 1 0 -2.8 0M516.29 78.3a1.4 1.4 0 1 0 2.8 0a1.4 1.4 0 1 0 -2.8 0M520.08 74.9a1.4 1.4 0 1 0 2.8 0a1.4 1.4 0 1 0 -2.8 0M523.87 73a1.4 1.4 0 1 0 2.8 0a1.4 1.4 0 1 0 -2.8 0M527.66 72a1.4 1.4 0 1 0 2.8 0a1.4 1.4 0 1 0 -2.8 0M531.45 72.5a1.4 1.4 0 1 0 2.8 0a1.4 1.4 0 1 0 -2.8 0M535.24 74.6a1.4 1.4 0 1 0 2.8 0a1.4 1.4 0 1 0 -2.8 0M539.03 77.5a1.4 1.4 0 1 0 2.8 0a1.4 1.4 0 1 0 -2.8 0M542.82 80.9a1.4 1.4 0 1 0 2.8 0a1.4 1.4 0 1 0 -2.8 0M546.61 84.1a1.4 1.4 0 1 0 2.8 0a1.4 1.4 0 1 0 -2.8 0M550.4 87.2a1.4 1.4 0 1 0 2.8 0a1.4 1.4 0 1 0 -2.8 0M554.19 90.1a1.4 1.4 0 1 0 2.8 0a1.4 1.4 0 1 0 -2.8 0M557.98 93.1a1.4 1.4 0 1 0 2.8 0a1.4 1.4 0 1 0 -2.8 0M561.77 95.7a1.4 1.4 0 1 0 2.8 0a1.4 1.4 0 1 0 -2.8 0M565.56 98.3a1.4 1.4 0 1 0 2.8 0a1.4 1.4 0 1 0 -2.8 0M569.35 100.01a1.4 1.4 0 1 0 2.8 0a1.4 1.4 0 1 0 -2.8 0M573.14 102.02a1.4 1.4 0 1 0 2.8 0a1.4 1.4 0 1 0 -2.8 0M576.93 103.93a1.4 1.4 0 1 0 2.8 0a1.4 1.4 0 1 0 -2.8 0M580.72 105.54a1.4 1.4 0 1 0 2.8 0a1.4 1.4 0 1 0 -2.8 0M584.51 107.25a1.4 1.4 0 1 0 2.8 0a1.4 1.4 0 1 0 -2.8 0M588.3 109.36a1.4 1.4 0 1 0 2.8 0a1.4 1.4 0 1 0 -2.8 0M592.09 112.17a1.4 1.4 0 1 0 2.8 0a1.4 1.4 0 1 0 -2.8 0M595.88 114.98a1.4 1.4 0 1 0 2.8 0a1.4 1.4 0 1 0 -2.8 0M599.67 118.09a1.4 1.4 0 1 0 2.8 0a1.4 1.4 0 1 0 -2.8 0M603.46 121.6a1.4 1.4 0 1 0 2.8 0a1.4 1.4 0 1 0 -2.8 0M607.25 124.9a1.4 1.4 0 1 0 2.8 0a1.4 1.4 0 1 0 -2.8 0M611.04 128.4a1.4 1.4 0 1 0 2.8 0a1.4 1.4 0 1 0 -2.8 0M614.83 133.1a1.4 1.4 0 1 0 2.8 0a1.4 1.4 0 1 0 -2.8 0M618.62 136.4a1.4 1.4 0 1 0 2.8 0a1.4 1.4 0 1 0 -2.8 0M622.41 139.9a1.4 1.4 0 1 0 2.8 0a1.4 1.4 0 1 0 -2.8 0M626.2 144.3a1.4 1.4 0 1 0 2.8 0a1.4 1.4 0 1 0 -2.8 0M629.99 147.93a1.4 1.4 0 1 0 2.8 0a1.4 1.4 0 1 0 -2.8 0M633.78 150.95a1.4 1.4 0 1 0 2.8 0a1.4 1.4 0 1 0 -2.8 0M637.57 153.78a1.4 1.4 0 1 0 2.8 0a1.4 1.4 0 1 0 -2.8 0M641.36 155.8a1.4 1.4 0 1 0 2.8 0a1.4 1.4 0 1 0 -2.8 0M645.15 157.12a1.4 1.4 0 1 0 2.8 0a1.4 1.4 0 1 0 -2.8 0M648.94 158.25a1.4 1.4 0 1 0 2.8 0a1.4 1.4 0 1 0 -2.8 0M652.73 159.08a1.4 1.4 0 1 0 2.8 0a1.4 1.4 0 1 0 -2.8 0M656.52 159.7a1.4 1.4 0 1 0 2.8 0a1.4 1.4 0 1 0 -2.8 0M660.31 160.11a1.4 1.4 0 1 0 2.8 0a1.4 1.4 0 1 0 -2.8 0M664.1 160.41a1.4 1.4 0 1 0 2.8 0a1.4 1.4 0 1 0 -2.8 0M667.89 160.52a1.4 1.4 0 1 0 2.8 0a1.4 1.4 0 1 0 -2.8 0M671.68 160.62a1.4 1.4 0 1 0 2.8 0a1.4 1.4 0 1 0 -2.8 0M675.47 160.73a1.4 1.4 0 1 0 2.8 0a1.4 1.4 0 1 0 -2.8 0M679.26 160.84a1.4 1.4 0 1 0 2.8 0a1.4 1.4 0 1 0 -2.8 0M683.05 160.94a1.4 1.4 0 1 0 2.8 0a1.4 1.4 0 1 0 -2.8 0M686.84 161.05a1.4 1.4 0 1 0 2.8 0a1.4 1.4 0 1 0 -2.8 0M690.63 161.15a1.4 1.4 0 1 0 2.8 0a1.4 1.4 0 1 0 -2.8 0M694.42 161.26a1.4 1.4 0 1 0 2.8 0a1.4 1.4 0 1 0 -2.8 0M698.21 161.36a1.4 1.4 0 1 0 2.8 0a1.4 1.4 0 1 0 -2.8 0M702 161.47a1.4 1.4 0 1 0 2.8 0a1.4 1.4 0 1 0 -2.8 0M705.79 161.58a1.4 1.4 0 1 0 2.8 0a1.4 1.4 0 1 0 -2.8 0M709.58 161.68a1.4 1.4 0 1 0 2.8 0a1.4 1.4 0 1 0 -2.8 0M713.37 161.79a1.4 1.4 0 1 0 2.8 0a1.4 1.4 0 1 0 -2.8 0M717.16 161.89a1.4 1.4 0 1 0 2.8 0a1.4 1.4 0 1 0 -2.8 0M720.95 162a1.4 1.4 0 1 0 2.8 0a1.4 1.4 0 1 0 -2.8 0"/>
<path fill="#ffff00" d="M436.75 145.6a1.35 1.35 0 1 0 2.7 0a1.35 1.35 0 1 0 -2.7 0M440.54 150.2a1.35 1.35 0 1 0 2.7 0a1.35 1.35 0 1 0 -2.7 0M444.33 146.2a1.35 1.35 0 1 0 2.7 0a1.35 1.35 0 1 0 -2.7 0M448.12 149.4a1.35 1.35 0 1 0 2.7 0a1.35 1.35 0 1 0 -2.7 0M451.91 149.9a1.35 1.35 0 1 0 2.7 0a1.35 1.35 0 1 0 -2.7 0M455.7 140.8a1.35 1.35 0 1 0 2.7 0a1.35 1.35 0 1 0 -2.7 0M459.49 145.1a1.35 1.35 0 1 0 2.7 0a1.35 1.35 0 1 0 -2.7 0M463.28 149.4a1.35 1.35 0 1 0 2.7 0a1.35 1.35 0 1 0 -2.7 0M467.07 144a1.35 1.35 0 1 0 2.7 0a1.35 1.35 0 1 0 -2.7 0M470.86 146a1.35 1.35 0 1 0 2.7 0a1.35 1.35 0 1 0 -2.7 0M474.65 153.9a1.35 1.35 0 1 0 2.7 0a1.35 1.35 0 1 0 -2.7 0M478.44 152.4a1.35 1.35 0 1 0 2.7 0a1.35 1.35 0 1 0 -2.7 0M482.23 145.1a1.35 1.35 0 1 0 2.7 0a1.35 1.35 0 1 0 -2.7 0M486.02 134.88a1.35 1.35 0 1 0 2.7 0a1.35 1.35 0 1 0 -2.7 0M489.81 124.75a1.35 1.35 0 1 0 2.7 0a1.35 1.35 0 1 0 -2.7 0M493.6 115.03a1.35 1.35 0 1 0 2.7 0a1.35 1.35 0 1 0 -2.7 0M497.39 106.6a1.35 1.35 0 1 0 2.7 0a1.35 1.35 0 1 0 -2.7 0M501.18 100.4a1.35 1.35 0 1 0 2.7 0a1.35 1.35 0 1 0 -2.7 0M504.97 95.4a1.35 1.35 0 1 0 2.7 0a1.35 1.35 0 1 0 -2.7 0M508.76 90.6a1.35 1.35 0 1 0 2.7 0a1.35 1.35 0 1 0 -2.7 0M512.55 86a1.35 1.35 0 1 0 2.7 0a1.35 1.35 0 1 0 -2.7 0M516.34 82.4a1.35 1.35 0 1 0 2.7 0a1.35 1.35 0 1 0 -2.7 0M520.13 79a1.35 1.35 0 1 0 2.7 0a1.35 1.35 0 1 0 -2.7 0M523.92 77.1a1.35 1.35 0 1 0 2.7 0a1.35 1.35 0 1 0 -2.7 0M527.71 76.1a1.35 1.35 0 1 0 2.7 0a1.35 1.35 0 1 0 -2.7 0M531.5 76.6a1.35 1.35 0 1 0 2.7 0a1.35 1.35 0 1 0 -2.7 0M535.29 78.7a1.35 1.35 0 1 0 2.7 0a1.35 1.35 0 1 0 -2.7 0M539.08 81.6a1.35 1.35 0 1 0 2.7 0a1.35 1.35 0 1 0 -2.7 0M542.87 85a1.35 1.35 0 1 0 2.7 0a1.35 1.35 0 1 0 -2.7 0M546.66 88a1.35 1.35 0 1 0 2.7 0a1.35 1.35 0 1 0 -2.7 0M550.45 90.9a1.35 1.35 0 1 0 2.7 0a1.35 1.35 0 1 0 -2.7 0M554.24 93.92a1.35 1.35 0 1 0 2.7 0a1.35 1.35 0 1 0 -2.7 0M558.03 97.03a1.35 1.35 0 1 0 2.7 0a1.35 1.35 0 1 0 -2.7 0M561.82 99.75a1.35 1.35 0 1 0 2.7 0a1.35 1.35 0 1 0 -2.7 0M565.61 102.47a1.35 1.35 0 1 0 2.7 0a1.35 1.35 0 1 0 -2.7 0M569.4 104.48a1.35 1.35 0 1 0 2.7 0a1.35 1.35 0 1 0 -2.7 0M573.19 106.8a1.35 1.35 0 1 0 2.7 0a1.35 1.35 0 1 0 -2.7 0M576.98 108.91a1.35 1.35 0 1 0 2.7 0a1.35 1.35 0 1 0 -2.7 0M580.77 110.72a1.35 1.35 0 1 0 2.7 0a1.35 1.35 0 1 0 -2.7 0M584.56 112.64a1.35 1.35 0 1 0 2.7 0a1.35 1.35 0 1 0 -2.7 0M588.35 114.95a1.35 1.35 0 1 0 2.7 0a1.35 1.35 0 1 0 -2.7 0M592.14 117.96a1.35 1.35 0 1 0 2.7 0a1.35 1.35 0 1 0 -2.7 0M595.93 120.98a1.35 1.35 0 1 0 2.7 0a1.35 1.35 0 1 0 -2.7 0M599.72 124.29a1.35 1.35 0 1 0 2.7 0a1.35 1.35 0 1 0 -2.7 0M603.51 128a1.35 1.35 0 1 0 2.7 0a1.35 1.35 0 1 0 -2.7 0M607.3 131.18a1.35 1.35 0 1 0 2.7 0a1.35 1.35 0 1 0 -2.7 0M611.09 134.56a1.35 1.35 0 1 0 2.7 0a1.35 1.35 0 1 0 -2.7 0M614.88 139.14a1.35 1.35 0 1 0 2.7 0a1.35 1.35 0 1 0 -2.7 0M618.67 142.32a1.35 1.35 0 1 0 2.7 0a1.35 1.35 0 1 0 -2.7 0M622.46 145.7a1.35 1.35 0 1 0 2.7 0a1.35 1.35 0 1 0 -2.7 0M626.25 149.98a1.35 1.35 0 1 0 2.7 0a1.35 1.35 0 1 0 -2.7 0M630.04 153.46a1.35 1.35 0 1 0 2.7 0a1.35 1.35 0 1 0 -2.7 0M633.83 156.35a1.35 1.35 0 1 0 2.7 0a1.35 1.35 0 1 0 -2.7 0M637.62 159.03a1.35 1.35 0 1 0 2.7 0a1.35 1.35 0 1 0 -2.7 0M641.41 160.91a1.35 1.35 0 1 0 2.7 0a1.35 1.35 0 1 0 -2.7 0M645.2 162.09a1.35 1.35 0 1 0 2.7 0a1.35 1.35 0 1 0 -2.7 0M648.99 163.07a1.35 1.35 0 1 0 2.7 0a1.35 1.35 0 1 0 -2.7 0M652.78 163.75a1.35 1.35 0 1 0 2.7 0a1.35 1.35 0 1 0 -2.7 0M656.57 164.23a1.35 1.35 0 1 0 2.7 0a1.35 1.35 0 1 0 -2.7 0M660.36 164.61a1.35 1.35 0 1 0 2.7 0a1.35 1.35 0 1 0 -2.7 0M664.15 164.89a1.35 1.35 0 1 0 2.7 0a1.35 1.35 0 1 0 -2.7 0M667.94 164.97a1.35 1.35 0 1 0 2.7 0a1.35 1.35 0 1 0 -2.7 0M671.73 165.05a1.35 1.35 0 1 0 2.7 0a1.35 1.35 0 1 0 -2.7 0M675.52 165.13a1.35 1.35 0 1 0 2.7 0a1.35 1.35 0 1 0 -2.7 0M679.31 165.21a1.35 1.35 0 1 0 2.7 0a1.35 1.35 0 1 0 -2.7 0M683.1 165.29a1.35 1.35 0 1 0 2.7 0a1.35 1.35 0 1 0 -2.7 0M686.89 165.37a1.35 1.35 0 1 0 2.7 0a1.35 1.35 0 1 0 -2.7 0M690.68 165.45a1.35 1.35 0 1 0 2.7 0a1.35 1.35 0 1 0 -2.7 0M694.47 165.54a1.35 1.35 0 1 0 2.7 0a1.35 1.35 0 1 0 -2.7 0M698.26 165.62a1.35 1.35 0 1 0 2.7 0a1.35 1.35 0 1 0 -2.7 0M702.05 165.7a1.35 1.35 0 1 0 2.7 0a1.35 1.35 0 1 0 -2.7 0M705.84 165.78a1.35 1.35 0 1 0 2.7 0a1.35 1.35 0 1 0 -2.7 0M709.63 165.86a1.35 1.35 0 1 0 2.7 0a1.35 1.35 0 1 0 -2.7 0M713.42 165.94a1.35 1.35 0 1 0 2.7 0a1.35 1.35 0 1 0 -2.7 0M717.21 166.02a1.35 1.35 0 1 0 2.7 0a1.35 1.35 0 1 0 -2.7 0M721 166.1a1.35 1.35 0 1 0 2.7 0a1.35 1.35 0 1 0 -2.7 0"/>
<path fill="#ff0000" d="M436.6 149.9a1.5 1.5 0 1 0 3 0a1.5 1.5 0 1 0 -3 0M440.39 141.9a1.5 1.5 0 1 0 3 0a1.5 1.5 0 1 0 -3 0M444.18 151a1.5 1.5 0 1 0 3 0a1.5 1.5 0 1 0 -3 0M447.97 144.8a1.5 1.5 0 1 0 3 0a1.5 1.5 0 1 0 -3 0M451.76 142.8a1.5 1.5 0 1 0 3 0a1.5 1.5 0 1 0 -3 0M455.55 138a1.5 1.5 0 1 0 3 0a1.5 1.5 0 1 0 -3 0M459.34 139.2a1.5 1.5 0 1 0 3 0a1.5 1.5 0 1 0 -3 0M463.13 141.4a1.5 1.5 0 1 0 3 0a1.5 1.5 0 1 0 -3 0M466.92 143.7a1.5 1.5 0 1 0 3 0a1.5 1.5 0 1 0 -3 0M470.71 145.3a1.5 1.5 0 1 0 3 0a1.5 1.5 0 1 0 -3 0M474.5 148.8a1.5 1.5 0 1 0 3 0a1.5 1.5 0 1 0 -3 0M478.29 150.1a1.5 1.5 0 1 0 3 0a1.5 1.5 0 1 0 -3 0M482.08 142.6a1.5 1.5 0 1 0 3 0a1.5 1.5 0 1 0 -3 0M485.87 133.1a1.5 1.5 0 1 0 3 0a1.5 1.5 0 1 0 -3 0M489.66 123.7a1.5 1.5 0 1 0 3 0a1.5 1.5 0 1 0 -3 0M493.45 114.7a1.5 1.5 0 1 0 3 0a1.5 1.5 0 1 0 -3 0M497.24 107a1.5 1.5 0 1 0 3 0a1.5 1.5 0 1 0 -3 0M501.03 100.8a1.5 1.5 0 1 0 3 0a1.5 1.5 0 1 0 -3 0M504.82 95.8a1.5 1.5 0 1 0 3 0a1.5 1.5 0 1 0 -3 0M508.61 91a1.5 1.5 0 1 0 3 0a1.5 1.5 0 1 0 -3 0M512.4 86.4a1.5 1.5 0 1 0 3 0a1.5 1.5 0 1 0 -3 0M516.19 82.8a1.5 1.5 0 1 0 3 0a1.5 1.5 0 1 0 -3 0M519.98 79.4a1.5 1.5 0 1 0 3 0a1.5 1.5 0 1 0 -3 0M523.77 77.5a1.5 1.5 0 1 0 3 0a1.5 1.5 0 1 0 -3 0M527.56 76.5a1.5 1.5 0 1 0 3 0a1.5 1.5 0 1 0 -3 0M531.35 77a1.5 1.5 0 1 0 3 0a1.5 1.5 0 1 0 -3 0M535.14 79.1a1.5 1.5 0 1 0 3 0a1.5 1.5 0 1 0 -3 0M538.93 82a1.5 1.5 0 1 0 3 0a1.5 1.5 0 1 0 -3 0M542.72 85.4a1.5 1.5 0 1 0 3 0a1.5 1.5 0 1 0 -3 0M546.51 88.4a1.5 1.5 0 1 0 3 0a1.5 1.5 0 1 0 -3 0M550.3 91.3a1.5 1.5 0 1 0 3 0a1.5 1.5 0 1 0 -3 0M554.09 94a1.5 1.5 0 1 0 3 0a1.5 1.5 0 1 0 -3 0M557.88 96.8a1.5 1.5 0 1 0 3 0a1.5 1.5 0 1 0 -3 0M561.67 99.2a1.5 1.5 0 1 0 3 0a1.5 1.5 0 1 0 -3 0M565.46 101.6a1.5 1.5 0 1 0 3 0a1.5 1.5 0 1 0 -3 0M569.25 103.3a1.5 1.5 0 1 0 3 0a1.5 1.5 0 1 0 -3 0M573.04 105.3a1.5 1.5 0 1 0 3 0a1.5 1.5 0 1 0 -3 0M576.83 107.2a1.5 1.5 0 1 0 3 0a1.5 1.5 0 1 0 -3 0M580.62 108.8a1.5 1.5 0 1 0 3 0a1.5 1.5 0 1 0 -3 0M584.41 110.5a1.5 1.5 0 1 0 3 0a1.5 1.5 0 1 0 -3 0M588.2 112.6a1.5 1.5 0 1 0 3 0a1.5 1.5 0 1 0 -3 0M591.99 115.4a1.5 1.5 0 1 0 3 0a1.5 1.5 0 1 0 -3 0M595.78 118.2a1.5 1.5 0 1 0 3 0a1.5 1.5 0 1 0 -3 0M599.57 121.3a1.5 1.5 0 1 0 3 0a1.5 1.5 0 1 0 -3 0M603.36 124.8a1.5 1.5 0 1 0 3 0a1.5 1.5 0 1 0 -3 0M607.15 128a1.5 1.5 0 1 0 3 0a1.5 1.5 0 1 0 -3 0M610.94 131.4a1.5 1.5 0 1 0 3 0a1.5 1.5 0 1 0 -3 0M614.73 136a1.5 1.5 0 1 0 3 0a1.5 1.5 0 1 0 -3 0M618.52 139.2a1.5 1.5 0 1 0 3 0a1.5 1.5 0 1 0 -3 0M622.31 142.6a1.5 1.5 0 1 0 3 0a1.5 1.5 0 1 0 -3 0M626.1 146.9a1.5 1.5 0 1 0 3 0a1.5 1.5 0 1 0 -3 0M629.89 150.4a1.5 1.5 0 1 0 3 0a1.5 1.5 0 1 0 -3 0M633.68 153.3a1.5 1.5 0 1 0 3 0a1.5 1.5 0 1 0 -3 0M637.47 156a1.5 1.5 0 1 0 3 0a1.5 1.5 0 1 0 -3 0M641.26 157.9a1.5 1.5 0 1 0 3 0a1.5 1.5 0 1 0 -3 0M645.05 159.1a1.5 1.5 0 1 0 3 0a1.5 1.5 0 1 0 -3 0M648.84 160.1a1.5 1.5 0 1 0 3 0a1.5 1.5 0 1 0 -3 0M652.63 160.8a1.5 1.5 0 1 0 3 0a1.5 1.5 0 1 0 -3 0M656.42 161.3a1.5 1.5 0 1 0 3 0a1.5 1.5 0 1 0 -3 0M660.21 161.7a1.5 1.5 0 1 0 3 0a1.5 1.5 0 1 0 -3 0M664 162a1.5 1.5 0 1 0 3 0a1.5 1.5 0 1 0 -3 0M667.79 162.1a1.5 1.5 0 1 0 3 0a1.5 1.5 0 1 0 -3 0M671.58 162.2a1.5 1.5 0 1 0 3 0a1.5 1.5 0 1 0 -3 0M675.37 162.3a1.5 1.5 0 1 0 3 0a1.5 1.5 0 1 0 -3 0M679.16 162.4a1.5 1.5 0 1 0 3 0a1.5 1.5 0 1 0 -3 0M682.95 162.5a1.5 1.5 0 1 0 3 0a1.5 1.5 0 1 0 -3 0M686.74 162.6a1.5 1.5 0 1 0 3 0a1.5 1.5 0 1 0 -3 0M690.53 162.7a1.5 1.5 0 1 0 3 0a1.5 1.5 0 1 0 -3 0M694.32 162.8a1.5 1.5 0 1 0 3 0a1.5 1.5 0 1 0 -3 0M698.11 162.9a1.5 1.5 0 1 0 3 0a1.5 1.5 0 1 0 -3 0M701.9 163a1.5 1.5 0 1 0 3 0a1.5 1.5 0 1 0 -3 0M705.69 163.1a1.5 1.5 0 1 0 3 0a1.5 1.5 0 1 0 -3 0M709.48 163.2a1.5 1.5 0 1 0 3 0a1.5 1.5 0 1 0 -3 0M713.27 163.3a1.5 1.5 0 1 0 3 0a1.5 1.5 0 1 0 -3 0M717.06 163.4a1.5 1.5 0 1 0 3 0a1.5 1.5 0 1 0 -3 0M720.85 163.5a1.5 1.5 0 1 0 3 0a1.5 1.5 0 1 0 -3 0"/>
<path fill="#00b050" d="M437.05 154.7a1.05 1.05 0 1 0 2.1 0a1.05 1.05 0 1 0 -2.1 0M440.84 148.8a1.05 1.05 0 1 0 2.1 0a1.05 1.05 0 1 0 -2.1 0M444.63 152.9a1.05 1.05 0 1 0 2.1 0a1.05 1.05 0 1 0 -2.1 0M448.42 152.3a1.05 1.05 0 1 0 2.1 0a1.05 1.05 0 1 0 -2.1 0M452.21 146.2a1.05 1.05 0 1 0 2.1 0a1.05 1.05 0 1 0 -2.1 0M456 148.8a1.05 1.05 0 1 0 2.1 0a1.05 1.05 0 1 0 -2.1 0M459.79 141.7a1.05 1.05 0 1 0 2.1 0a1.05 1.05 0 1 0 -2.1 0M463.58 139.8a1.05 1.05 0 1 0 2.1 0a1.05 1.05 0 1 0 -2.1 0M467.37 141.9a1.05 1.05 0 1 0 2.1 0a1.05 1.05 0 1 0 -2.1 0M471.16 149.5a1.05 1.05 0 1 0 2.1 0a1.05 1.05 0 1 0 -2.1 0M474.95 151a1.05 1.05 0 1 0 2.1 0a1.05 1.05 0 1 0 -2.1 0M478.74 152a1.05 1.05 0 1 0 2.1 0a1.05 1.05 0 1 0 -2.1 0M482.53 144.8a1.05 1.05 0 1 0 2.1 0a1.05 1.05 0 1 0 -2.1 0M486.32 135.4a1.05 1.05 0 1 0 2.1 0a1.05 1.05 0 1 0 -2.1 0M490.11 126.1a1.05 1.05 0 1 0 2.1 0a1.05 1.05 0 1 0 -2.1 0M493.9 117.2a1.05 1.05 0 1 0 2.1 0a1.05 1.05 0 1 0 -2.1 0M497.69 109.6a1.05 1.05 0 1 0 2.1 0a1.05 1.05 0 1 0 -2.1 0M501.48 103.5a1.05 1.05 0 1 0 2.1 0a1.05 1.05 0 1 0 -2.1 0M505.27 98.6a1.05 1.05 0 1 0 2.1 0a1.05 1.05 0 1 0 -2.1 0M509.06 93.9a1.05 1.05 0 1 0 2.1 0a1.05 1.05 0 1 0 -2.1 0M512.85 89.4a1.05 1.05 0 1 0 2.1 0a1.05 1.05 0 1 0 -2.1 0M516.64 85.8a1.05 1.05 0 1 0 2.1 0a1.05 1.05 0 1 0 -2.1 0M520.43 82.4a1.05 1.05 0 1 0 2.1 0a1.05 1.05 0 1 0 -2.1 0M524.22 80.5a1.05 1.05 0 1 0 2.1 0a1.05 1.05 0 1 0 -2.1 0M528.01 79.5a1.05 1.05 0 1 0 2.1 0a1.05 1.05 0 1 0 -2.1 0M531.8 80a1.05 1.05 0 1 0 2.1 0a1.05 1.05 0 1 0 -2.1 0M535.59 82.1a1.05 1.05 0 1 0 2.1 0a1.05 1.05 0 1 0 -2.1 0M539.38 85a1.05 1.05 0 1 0 2.1 0a1.05 1.05 0 1 0 -2.1 0M543.17 88.4a1.05 1.05 0 1 0 2.1 0a1.05 1.05 0 1 0 -2.1 0M546.96 91.4a1.05 1.05 0 1 0 2.1 0a1.05 1.05 0 1 0 -2.1 0M550.75 94.3a1.05 1.05 0 1 0 2.1 0a1.05 1.05 0 1 0 -2.1 0M554.54 96.92a1.05 1.05 0 1 0 2.1 0a1.05 1.05 0 1 0 -2.1 0M558.33 99.64a1.05 1.05 0 1 0 2.1 0a1.05 1.05 0 1 0 -2.1 0M562.12 101.96a1.05 1.05 0 1 0 2.1 0a1.05 1.05 0 1 0 -2.1 0M565.91 104.28a1.05 1.05 0 1 0 2.1 0a1.05 1.05 0 1 0 -2.1 0M569.7 105.9a1.05 1.05 0 1 0 2.1 0a1.05 1.05 0 1 0 -2.1 0M573.49 107.82a1.05 1.05 0 1 0 2.1 0a1.05 1.05 0 1 0 -2.1 0M577.28 109.64a1.05 1.05 0 1 0 2.1 0a1.05 1.05 0 1 0 -2.1 0M581.07 111.16a1.05 1.05 0 1 0 2.1 0a1.05 1.05 0 1 0 -2.1 0M584.86 112.78a1.05 1.05 0 1 0 2.1 0a1.05 1.05 0 1 0 -2.1 0M588.65 114.8a1.05 1.05 0 1 0 2.1 0a1.05 1.05 0 1 0 -2.1 0M592.44 117.57a1.05 1.05 0 1 0 2.1 0a1.05 1.05 0 1 0 -2.1 0M596.23 120.35a1.05 1.05 0 1 0 2.1 0a1.05 1.05 0 1 0 -2.1 0M600.02 123.42a1.05 1.05 0 1 0 2.1 0a1.05 1.05 0 1 0 -2.1 0M603.81 126.9a1.05 1.05 0 1 0 2.1 0a1.05 1.05 0 1 0 -2.1 0M607.6 130.07a1.05 1.05 0 1 0 2.1 0a1.05 1.05 0 1 0 -2.1 0M611.39 133.45a1.05 1.05 0 1 0 2.1 0a1.05 1.05 0 1 0 -2.1 0M615.18 138.02a1.05 1.05 0 1 0 2.1 0a1.05 1.05 0 1 0 -2.1 0M618.97 141.19a1.05 1.05 0 1 0 2.1 0a1.05 1.05 0 1 0 -2.1 0M622.76 144.57a1.05 1.05 0 1 0 2.1 0a1.05 1.05 0 1 0 -2.1 0M626.55 148.84a1.05 1.05 0 1 0 2.1 0a1.05 1.05 0 1 0 -2.1 0M630.34 152.32a1.05 1.05 0 1 0 2.1 0a1.05 1.05 0 1 0 -2.1 0M634.13 155.19a1.05 1.05 0 1 0 2.1 0a1.05 1.05 0 1 0 -2.1 0M637.92 157.87a1.05 1.05 0 1 0 2.1 0a1.05 1.05 0 1 0 -2.1 0M641.71 159.74a1.05 1.05 0 1 0 2.1 0a1.05 1.05 0 1 0 -2.1 0M645.5 160.91a1.05 1.05 0 1 0 2.1 0a1.05 1.05 0 1 0 -2.1 0M649.29 161.89a1.05 1.05 0 1 0 2.1 0a1.05 1.05 0 1 0 -2.1 0M653.08 162.56a1.05 1.05 0 1 0 2.1 0a1.05 1.05 0 1 0 -2.1 0M656.87 163.04a1.05 1.05 0 1 0 2.1 0a1.05 1.05 0 1 0 -2.1 0M660.66 163.41a1.05 1.05 0 1 0 2.1 0a1.05 1.05 0 1 0 -2.1 0M664.45 163.69a1.05 1.05 0 1 0 2.1 0a1.05 1.05 0 1 0 -2.1 0M668.24 163.76a1.05 1.05 0 1 0 2.1 0a1.05 1.05 0 1 0 -2.1 0M672.03 163.83a1.05 1.05 0 1 0 2.1 0a1.05 1.05 0 1 0 -2.1 0M675.82 163.91a1.05 1.05 0 1 0 2.1 0a1.05 1.05 0 1 0 -2.1 0M679.61 163.98a1.05 1.05 0 1 0 2.1 0a1.05 1.05 0 1 0 -2.1 0M683.4 164.06a1.05 1.05 0 1 0 2.1 0a1.05 1.05 0 1 0 -2.1 0M687.19 164.13a1.05 1.05 0 1 0 2.1 0a1.05 1.05 0 1 0 -2.1 0M690.98 164.21a1.05 1.05 0 1 0 2.1 0a1.05 1.05 0 1 0 -2.1 0M694.77 164.28a1.05 1.05 0 1 0 2.1 0a1.05 1.05 0 1 0 -2.1 0M698.56 164.35a1.05 1.05 0 1 0 2.1 0a1.05 1.05 0 1 0 -2.1 0M702.35 164.43a1.05 1.05 0 1 0 2.1 0a1.05 1.05 0 1 0 -2.1 0M706.14 164.5a1.05 1.05 0 1 0 2.1 0a1.05 1.05 0 1 0 -2.1 0M709.93 164.58a1.05 1.05 0 1 0 2.1 0a1.05 1.05 0 1 0 -2.1 0M713.72 164.65a1.05 1.05 0 1 0 2.1 0a1.05 1.05 0 1 0 -2.1 0M717.51 164.73a1.05 1.05 0 1 0 2.1 0a1.05 1.05 0 1 0 -2.1 0M721.3 164.8a1.05 1.05 0 1 0 2.1 0a1.05 1.05 0 1 0 -2.1 0"/>
<rect x="4.5" y="275.5" width="360" height="217" fill="none" stroke="#d9d9d9" stroke-width="1"/>
<line x1="56.1" y1="286.34" x2="56.1" y2="446.5" stroke="#c6c6c6" stroke-width="1"/>
<line x1="56.1" y1="446.5" x2="345.9" y2="446.5" stroke="#c6c6c6" stroke-width="1"/>
<line x1="56.1" y1="446.5" x2="58.9" y2="446.5" stroke="#c6c6c6" stroke-width="1"/>
<text x="45.8" y="450.1" font-size="10" text-anchor="end" fill="#595959">0.0</text>
<line x1="56.1" y1="423.62" x2="58.9" y2="423.62" stroke="#c6c6c6" stroke-width="1"/>
<text x="45.8" y="427.22" font-size="10" text-anchor="end" fill="#595959">0.2</text>
<line x1="56.1" y1="400.74" x2="58.9" y2="400.74" stroke="#c6c6c6" stroke-width="1"/>
<text x="45.8" y="404.34" font-size="10" text-anchor="end" fill="#595959">0.4</text>
<line x1="56.1" y1="377.86" x2="58.9" y2="377.86" stroke="#c6c6c6" stroke-width="1"/>
<text x="45.8" y="381.46" font-size="10" text-anchor="end" fill="#595959">0.6</text>
<line x1="56.1" y1="354.98" x2="58.9" y2="354.98" stroke="#c6c6c6" stroke-width="1"/>
<text x="45.8" y="358.58" font-size="10" text-anchor="end" fill="#595959">0.8</text>
<line x1="56.1" y1="332.1" x2="58.9" y2="332.1" stroke="#c6c6c6" stroke-width="1"/>
<text x="45.8" y="335.7" font-size="10" text-anchor="end" fill="#595959">1.0</text>
<line x1="56.1" y1="309.22" x2="58.9" y2="309.22" stroke="#c6c6c6" stroke-width="1"/>
<text x="45.8" y="312.82" font-size="10" text-anchor="end" fill="#595959">1.2</text>
<line x1="56.1" y1="286.34" x2="58.9" y2="286.34" stroke="#c6c6c6" stroke-width="1"/>
<text x="45.8" y="289.94" font-size="10" text-anchor="end" fill="#595959">1.4</text>
<text x="56.1" y="463" font-size="10" text-anchor="middle" fill="#595959">0.0</text>
<line x1="104.4" y1="446.5" x2="104.4" y2="443.7" stroke="#c6c6c6" stroke-width="1"/>
<text x="104.4" y="463" font-size="10" text-anchor="middle" fill="#595959">1.0</text>
<line x1="152.7" y1="446.5" x2="152.7" y2="443.7" stroke="#c6c6c6" stroke-width="1"/>
<text x="152.7" y="463" font-size="10" text-anchor="middle" fill="#595959">2.0</text>
<line x1="201" y1="446.5" x2="201" y2="443.7" stroke="#c6c6c6" stroke-width="1"/>
<text x="201" y="463" font-size="10" text-anchor="middle" fill="#595959">3.0</text>
<line x1="249.3" y1="446.5" x2="249.3" y2="443.7" stroke="#c6c6c6" stroke-width="1"/>
<text x="249.3" y="463" font-size="10" text-anchor="middle" fill="#595959">4.0</text>
<line x1="297.6" y1="446.5" x2="297.6" y2="443.7" stroke="#c6c6c6" stroke-width="1"/>
<text x="297.6" y="463" font-size="10" text-anchor="middle" fill="#595959">5.0</text>
<line x1="345.9" y1="446.5" x2="345.9" y2="443.7" stroke="#c6c6c6" stroke-width="1"/>
<text x="345.9" y="463" font-size="10" text-anchor="middle" fill="#595959">6.0</text>
<text x="0" y="0" font-size="10.2" text-anchor="middle" fill="#595959" transform="translate(26 366) rotate(-90)">Absorbance</text>
<text x="201.6" y="478" font-size="10" text-anchor="middle" fill="#595959">Time [h]</text>
<line x1="104.4" y1="306.98" x2="297.6" y2="350.59" stroke="#ff0000" stroke-width="1.3" stroke-dasharray="1.4 1.6"/>
<line x1="104.4" y1="307.23" x2="297.6" y2="371.29" stroke="#4f81bd" stroke-width="1.3" stroke-dasharray="1.4 1.6"/>
<path fill="#9bbb59" d="M53.5 302.5a2.6 2.6 0 1 0 5.2 0a2.6 2.6 0 1 0 -5.2 0"/>
<path fill="#4f81bd" d="M101.8 303.75a2.6 2.6 0 1 0 5.2 0a2.6 2.6 0 1 0 -5.2 0M150.1 325.5a2.6 2.6 0 1 0 5.2 0a2.6 2.6 0 1 0 -5.2 0M198.4 342.5a2.6 2.6 0 1 0 5.2 0a2.6 2.6 0 1 0 -5.2 0M246.7 356.75a2.6 2.6 0 1 0 5.2 0a2.6 2.6 0 1 0 -5.2 0M295 368.25a2.6 2.6 0 1 0 5.2 0a2.6 2.6 0 1 0 -5.2 0"/>
<path fill="#ff0000" d="M101.8 300.5a2.6 2.6 0 1 0 5.2 0a2.6 2.6 0 1 0 -5.2 0M150.1 323.25a2.6 2.6 0 1 0 5.2 0a2.6 2.6 0 1 0 -5.2 0M198.4 332.75a2.6 2.6 0 1 0 5.2 0a2.6 2.6 0 1 0 -5.2 0M246.7 340.25a2.6 2.6 0 1 0 5.2 0a2.6 2.6 0 1 0 -5.2 0M295 346.5a2.6 2.6 0 1 0 5.2 0a2.6 2.6 0 1 0 -5.2 0"/>
<text x="258.25" y="302.3" font-size="10" text-anchor="middle" fill="#595959">y = -0.0953x + 1.3149</text>
<text x="258.25" y="313.6" font-size="10" text-anchor="middle" fill="#595959">R&#178; = 0.9224</text>
<text x="263.25" y="411.8" font-size="10" text-anchor="middle" fill="#595959">y = -0.1400x + 1.3574</text>
<text x="263.25" y="423.6" font-size="10" text-anchor="middle" fill="#595959">R&#178; = 0.9869</text>
<rect x="383.5" y="275.5" width="359" height="217" fill="none" stroke="#d9d9d9" stroke-width="1"/>
<line x1="434.2" y1="286.5" x2="434.2" y2="446.6" stroke="#c6c6c6" stroke-width="1"/>
<line x1="434.2" y1="446.6" x2="728.55" y2="446.6" stroke="#c6c6c6" stroke-width="1"/>
<line x1="434.2" y1="446.6" x2="437" y2="446.6" stroke="#c6c6c6" stroke-width="1"/>
<text x="425.1" y="450.2" font-size="10" text-anchor="end" fill="#595959">0.8</text>
<line x1="434.2" y1="393.1" x2="437" y2="393.1" stroke="#c6c6c6" stroke-width="1"/>
<text x="425.1" y="396.7" font-size="10" text-anchor="end" fill="#595959">0.9</text>
<line x1="434.2" y1="339.6" x2="437" y2="339.6" stroke="#c6c6c6" stroke-width="1"/>
<text x="425.1" y="343.2" font-size="10" text-anchor="end" fill="#595959">1.0</text>
<line x1="434.2" y1="286.1" x2="437" y2="286.1" stroke="#c6c6c6" stroke-width="1"/>
<text x="425.1" y="289.7" font-size="10" text-anchor="end" fill="#595959">1.1</text>
<text x="434.2" y="463.6" font-size="10" text-anchor="middle" fill="#595959">0</text>
<line x1="476.25" y1="446.6" x2="476.25" y2="443.8" stroke="#c6c6c6" stroke-width="1"/>
<text x="476.25" y="463.6" font-size="10" text-anchor="middle" fill="#595959">1</text>
<line x1="518.3" y1="446.6" x2="518.3" y2="443.8" stroke="#c6c6c6" stroke-width="1"/>
<text x="518.3" y="463.6" font-size="10" text-anchor="middle" fill="#595959">2</text>
<line x1="560.35" y1="446.6" x2="560.35" y2="443.8" stroke="#c6c6c6" stroke-width="1"/>
<text x="560.35" y="463.6" font-size="10" text-anchor="middle" fill="#595959">3</text>
<line x1="602.4" y1="446.6" x2="602.4" y2="443.8" stroke="#c6c6c6" stroke-width="1"/>
<text x="602.4" y="463.6" font-size="10" text-anchor="middle" fill="#595959">4</text>
<line x1="644.45" y1="446.6" x2="644.45" y2="443.8" stroke="#c6c6c6" stroke-width="1"/>
<text x="644.45" y="463.6" font-size="10" text-anchor="middle" fill="#595959">5</text>
<line x1="686.5" y1="446.6" x2="686.5" y2="443.8" stroke="#c6c6c6" stroke-width="1"/>
<text x="686.5" y="463.6" font-size="10" text-anchor="middle" fill="#595959">6</text>
<line x1="728.55" y1="446.6" x2="728.55" y2="443.8" stroke="#c6c6c6" stroke-width="1"/>
<text x="728.55" y="463.6" font-size="10" text-anchor="middle" fill="#595959">7</text>
<text x="0" y="0" font-size="10.2" text-anchor="middle" fill="#595959" transform="translate(405.4 365.35) rotate(-90)">Absorbance</text>
<text x="582.3" y="477.7" font-size="10" text-anchor="middle" fill="#595959">Time [h]</text>
<line x1="476.25" y1="361.21" x2="686.5" y2="367.37" stroke="#ff0000" stroke-width="1.3" stroke-dasharray="1.4 1.6"/>
<line x1="476.25" y1="380.05" x2="686.5" y2="426.59" stroke="#4f81bd" stroke-width="1.3" stroke-dasharray="1.4 1.6"/>
<path fill="#9bbb59" d="M431.6 339.75a2.6 2.6 0 1 0 5.2 0a2.6 2.6 0 1 0 -5.2 0"/>
<path fill="#4f81bd" d="M473.65 382.4a2.6 2.6 0 1 0 5.2 0a2.6 2.6 0 1 0 -5.2 0M557.75 391.7a2.6 2.6 0 1 0 5.2 0a2.6 2.6 0 1 0 -5.2 0M599.8 413a2.6 2.6 0 1 0 5.2 0a2.6 2.6 0 1 0 -5.2 0M641.85 415.75a2.6 2.6 0 1 0 5.2 0a2.6 2.6 0 1 0 -5.2 0M683.9 428.25a2.6 2.6 0 1 0 5.2 0a2.6 2.6 0 1 0 -5.2 0"/>
<path fill="#ff0000" d="M473.65 360.3a2.6 2.6 0 1 0 5.2 0a2.6 2.6 0 1 0 -5.2 0M557.75 365a2.6 2.6 0 1 0 5.2 0a2.6 2.6 0 1 0 -5.2 0M599.8 366.9a2.6 2.6 0 1 0 5.2 0a2.6 2.6 0 1 0 -5.2 0M641.85 365.75a2.6 2.6 0 1 0 5.2 0a2.6 2.6 0 1 0 -5.2 0M683.9 366.75a2.6 2.6 0 1 0 5.2 0a2.6 2.6 0 1 0 -5.2 0"/>
<text x="645.5" y="306.6" font-size="10" text-anchor="middle" fill="#595959">y = -0.0023x + 0.9619</text>
<text x="645.5" y="317.9" font-size="10" text-anchor="middle" fill="#595959">R&#178; = 0.7228</text>
<text x="648" y="388.1" font-size="10" text-anchor="middle" fill="#595959">y = -0.0174x + 0.9418</text>
<text x="648" y="398.6" font-size="10" text-anchor="middle" fill="#595959">R&#178; = 0.9491</text>
<text x="184.8" y="250" font-size="17" text-anchor="middle" fill="#000" font-family="Liberation Serif, serif">(<tspan font-weight="bold" font-size="17.8">A</tspan>)</text>
<text x="563" y="250" font-size="17" text-anchor="middle" fill="#000" font-family="Liberation Serif, serif">(<tspan font-weight="bold" font-size="17.8">B</tspan>)</text>
<text x="184.6" y="521" font-size="17" text-anchor="middle" fill="#000" font-family="Liberation Serif, serif">(<tspan font-weight="bold" font-size="17.8">C</tspan>)</text>
<text x="563" y="521" font-size="17" text-anchor="middle" fill="#000" font-family="Liberation Serif, serif">(<tspan font-weight="bold" font-size="17.8">D</tspan>)</text>
</svg>
</body></html>
